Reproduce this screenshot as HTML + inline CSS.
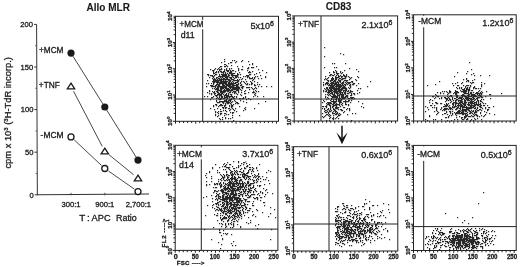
<!DOCTYPE html>
<html><head><meta charset="utf-8"><style>
html,body{margin:0;padding:0;background:#fff;}
body{width:520px;height:267px;overflow:hidden;}
svg{display:block;font-family:"Liberation Sans", sans-serif;filter:blur(0.3px);}
text{fill:#1a1a1a;stroke:#1a1a1a;stroke-width:0.3px;}
</style></head><body>
<svg width="520" height="267" viewBox="0 0 520 267">
<text x="86.60" y="11.20" font-size="10" text-anchor="start" font-weight="bold" style="stroke-width:0.1px">Allo MLR</text>
<text x="325.80" y="10.00" font-size="10" text-anchor="start" font-weight="bold" style="stroke-width:0.1px">CD83</text>
<line x1="36.60" y1="24.40" x2="37.35" y2="195.30" stroke="#333" stroke-width="1.0"/>
<line x1="34.75" y1="194.80" x2="37.35" y2="194.80" stroke="#333" stroke-width="1"/>
<text x="33.75" y="197.50" font-size="7.6" text-anchor="end" font-weight="normal" fill="#222">0</text>
<line x1="34.56" y1="152.20" x2="37.16" y2="152.20" stroke="#333" stroke-width="1"/>
<text x="33.56" y="154.90" font-size="7.6" text-anchor="end" font-weight="normal" fill="#222">50</text>
<line x1="34.38" y1="109.60" x2="36.98" y2="109.60" stroke="#333" stroke-width="1"/>
<text x="33.38" y="112.30" font-size="7.6" text-anchor="end" font-weight="normal" fill="#222">100</text>
<line x1="34.19" y1="67.00" x2="36.79" y2="67.00" stroke="#333" stroke-width="1"/>
<text x="33.19" y="69.70" font-size="7.6" text-anchor="end" font-weight="normal" fill="#222">150</text>
<line x1="34.00" y1="24.40" x2="36.60" y2="24.40" stroke="#333" stroke-width="1"/>
<text x="33.00" y="27.10" font-size="7.6" text-anchor="end" font-weight="normal" fill="#222">200</text>
<line x1="35.66" y1="173.50" x2="37.26" y2="173.50" stroke="#555" stroke-width="0.9"/>
<line x1="35.47" y1="130.90" x2="37.07" y2="130.90" stroke="#555" stroke-width="0.9"/>
<line x1="35.28" y1="88.30" x2="36.88" y2="88.30" stroke="#555" stroke-width="0.9"/>
<line x1="35.09" y1="45.70" x2="36.69" y2="45.70" stroke="#555" stroke-width="0.9"/>
<line x1="37.35" y1="194.80" x2="149.00" y2="194.00" stroke="#333" stroke-width="1.1"/>
<line x1="71.00" y1="192.80" x2="71.00" y2="195.30" stroke="#444" stroke-width="0.9"/>
<line x1="104.80" y1="192.80" x2="104.80" y2="195.30" stroke="#444" stroke-width="0.9"/>
<line x1="138.00" y1="192.80" x2="138.00" y2="195.30" stroke="#444" stroke-width="0.9"/>
<text x="71.00" y="207.20" font-size="7.6" text-anchor="middle" font-weight="normal" >300:1</text>
<text x="104.80" y="207.00" font-size="7.6" text-anchor="middle" font-weight="normal" >900:1</text>
<text x="138.40" y="207.00" font-size="7.6" text-anchor="middle" font-weight="normal" >2,700:1</text>
<text y="221.4" font-size="9.8"><tspan x="79.2">T</tspan><tspan x="87.0">:</tspan><tspan x="91.6" textLength="19" lengthAdjust="spacingAndGlyphs">APC</tspan><tspan x="116.0" textLength="20.8" lengthAdjust="spacingAndGlyphs">Ratio</tspan></text>
<text transform="translate(10.5,168.6) rotate(-90)" font-size="8.6" fill="#222" textLength="111.5" lengthAdjust="spacingAndGlyphs">cpm x 10<tspan dy="-3" font-size="5.5">3</tspan><tspan dy="3"> (</tspan><tspan dy="-3" font-size="5.5">3</tspan><tspan dy="3">H-TdR incorp.)</tspan></text>
<text x="39.00" y="52.80" font-size="8.8" text-anchor="start" font-weight="normal" textLength="24.4" lengthAdjust="spacingAndGlyphs">+MCM</text>
<text x="38.80" y="88.20" font-size="8.8" text-anchor="start" font-weight="normal" textLength="21" lengthAdjust="spacingAndGlyphs">+TNF</text>
<text x="40.60" y="137.80" font-size="8.8" text-anchor="start" font-weight="normal" textLength="23" lengthAdjust="spacingAndGlyphs">-MCM</text>
<line x1="72.91" y1="56.15" x2="102.89" y2="103.95" stroke="#333" stroke-width="0.9"/>
<line x1="106.71" y1="110.05" x2="136.09" y2="157.05" stroke="#333" stroke-width="0.9"/>
<line x1="73.58" y1="91.27" x2="102.22" y2="146.33" stroke="#333" stroke-width="0.9"/>
<line x1="109.14" y1="154.83" x2="133.66" y2="174.77" stroke="#333" stroke-width="0.9"/>
<line x1="74.21" y1="139.90" x2="101.59" y2="165.50" stroke="#333" stroke-width="0.9"/>
<line x1="108.41" y1="171.01" x2="134.39" y2="189.09" stroke="#333" stroke-width="0.9"/>
<circle cx="71.0" cy="53.1" r="3.6" fill="#1a1a1a"/>
<circle cx="104.8" cy="107.0" r="3.6" fill="#1a1a1a"/>
<circle cx="138.0" cy="160.1" r="3.6" fill="#1a1a1a"/>
<circle cx="71.0" cy="136.9" r="3.0" fill="#fff" stroke="#1a1a1a" stroke-width="1.3"/>
<circle cx="104.8" cy="168.5" r="3.0" fill="#fff" stroke="#1a1a1a" stroke-width="1.3"/>
<circle cx="138.0" cy="191.6" r="3.0" fill="#fff" stroke="#1a1a1a" stroke-width="1.3"/>
<path d="M71.0 83.1 L74.7 88.89999999999999 L67.3 88.89999999999999 Z" fill="#fff" stroke="#1a1a1a" stroke-width="1.3" stroke-linejoin="miter"/>
<path d="M104.8 148.10000000000002 L108.5 153.9 L101.1 153.9 Z" fill="#fff" stroke="#1a1a1a" stroke-width="1.3" stroke-linejoin="miter"/>
<path d="M138.0 175.10000000000002 L141.7 180.9 L134.3 180.9 Z" fill="#fff" stroke="#1a1a1a" stroke-width="1.3" stroke-linejoin="miter"/>
<path d="M224 59h1.2v1.2h-1.2zM232 60h1.2v1.2h-1.2zM234 60h1.2v1.2h-1.2zM242 60h1.2v1.2h-1.2zM224 61h1.2v1.2h-1.2zM236 61h1.2v1.2h-1.2zM241 61h1.2v1.2h-1.2zM248 61h1.2v1.2h-1.2zM221 62h1.2v1.2h-1.2zM230 62h2.2v1.2h-2.2zM235 62h1.2v1.2h-1.2zM228 63h1.2v1.2h-1.2zM252 63h1.2v1.2h-1.2zM224 64h2.2v1.2h-2.2zM249 64h1.2v1.2h-1.2zM252 64h1.2v1.2h-1.2zM226 65h1.2v1.2h-1.2zM231 65h1.2v1.2h-1.2zM220 66h2.2v1.2h-2.2zM224 66h2.2v1.2h-2.2zM227 66h1.2v1.2h-1.2zM237 66h1.2v1.2h-1.2zM242 66h1.2v1.2h-1.2zM256 66h1.2v1.2h-1.2zM219 67h1.2v1.2h-1.2zM248 67h1.2v1.2h-1.2zM251 67h3.2v1.2h-3.2zM215 68h1.2v1.2h-1.2zM218 68h1.2v1.2h-1.2zM221 68h1.2v1.2h-1.2zM226 68h1.2v1.2h-1.2zM229 68h1.2v1.2h-1.2zM231 68h1.2v1.2h-1.2zM238 68h1.2v1.2h-1.2zM247 68h2.2v1.2h-2.2zM210 69h1.2v1.2h-1.2zM214 69h1.2v1.2h-1.2zM217 69h1.2v1.2h-1.2zM219 69h3.2v1.2h-3.2zM224 69h1.2v1.2h-1.2zM226 69h1.2v1.2h-1.2zM229 69h1.2v1.2h-1.2zM238 69h1.2v1.2h-1.2zM241 69h2.2v1.2h-2.2zM258 69h1.2v1.2h-1.2zM212 70h2.2v1.2h-2.2zM219 70h1.2v1.2h-1.2zM224 70h1.2v1.2h-1.2zM226 70h3.2v1.2h-3.2zM230 70h1.2v1.2h-1.2zM232 70h2.2v1.2h-2.2zM238 70h1.2v1.2h-1.2zM247 70h1.2v1.2h-1.2zM262 70h1.2v1.2h-1.2zM213 71h1.2v1.2h-1.2zM216 71h1.2v1.2h-1.2zM218 71h1.2v1.2h-1.2zM220 71h2.2v1.2h-2.2zM223 71h2.2v1.2h-2.2zM227 71h2.2v1.2h-2.2zM230 71h2.2v1.2h-2.2zM235 71h1.2v1.2h-1.2zM249 71h1.2v1.2h-1.2zM252 71h1.2v1.2h-1.2zM213 72h1.2v1.2h-1.2zM215 72h2.2v1.2h-2.2zM218 72h1.2v1.2h-1.2zM221 72h3.2v1.2h-3.2zM225 72h1.2v1.2h-1.2zM229 72h3.2v1.2h-3.2zM239 72h1.2v1.2h-1.2zM248 72h3.2v1.2h-3.2zM259 72h1.2v1.2h-1.2zM266 72h1.2v1.2h-1.2zM213 73h2.2v1.2h-2.2zM223 73h1.2v1.2h-1.2zM225 73h1.2v1.2h-1.2zM227 73h1.2v1.2h-1.2zM229 73h6.2v1.2h-6.2zM237 73h1.2v1.2h-1.2zM256 73h1.2v1.2h-1.2zM207 74h2.2v1.2h-2.2zM215 74h2.2v1.2h-2.2zM219 74h1.2v1.2h-1.2zM221 74h6.2v1.2h-6.2zM228 74h1.2v1.2h-1.2zM231 74h2.2v1.2h-2.2zM237 74h2.2v1.2h-2.2zM240 74h1.2v1.2h-1.2zM249 74h2.2v1.2h-2.2zM254 74h1.2v1.2h-1.2zM208 75h1.2v1.2h-1.2zM210 75h3.2v1.2h-3.2zM214 75h1.2v1.2h-1.2zM219 75h1.2v1.2h-1.2zM222 75h5.2v1.2h-5.2zM228 75h2.2v1.2h-2.2zM231 75h7.2v1.2h-7.2zM246 75h3.2v1.2h-3.2zM260 75h1.2v1.2h-1.2zM212 76h2.2v1.2h-2.2zM218 76h11.2v1.2h-11.2zM232 76h1.2v1.2h-1.2zM235 76h3.2v1.2h-3.2zM243 76h1.2v1.2h-1.2zM245 76h1.2v1.2h-1.2zM247 76h2.2v1.2h-2.2zM255 76h1.2v1.2h-1.2zM257 76h1.2v1.2h-1.2zM265 76h1.2v1.2h-1.2zM209 77h1.2v1.2h-1.2zM213 77h1.2v1.2h-1.2zM216 77h2.2v1.2h-2.2zM220 77h1.2v1.2h-1.2zM222 77h1.2v1.2h-1.2zM225 77h3.2v1.2h-3.2zM229 77h3.2v1.2h-3.2zM233 77h1.2v1.2h-1.2zM235 77h2.2v1.2h-2.2zM238 77h1.2v1.2h-1.2zM240 77h1.2v1.2h-1.2zM247 77h1.2v1.2h-1.2zM249 77h1.2v1.2h-1.2zM252 77h1.2v1.2h-1.2zM254 77h1.2v1.2h-1.2zM265 77h1.2v1.2h-1.2zM212 78h1.2v1.2h-1.2zM214 78h1.2v1.2h-1.2zM216 78h1.2v1.2h-1.2zM218 78h2.2v1.2h-2.2zM221 78h1.2v1.2h-1.2zM223 78h2.2v1.2h-2.2zM226 78h2.2v1.2h-2.2zM230 78h2.2v1.2h-2.2zM234 78h1.2v1.2h-1.2zM242 78h1.2v1.2h-1.2zM249 78h4.2v1.2h-4.2zM254 78h1.2v1.2h-1.2zM258 78h1.2v1.2h-1.2zM261 78h1.2v1.2h-1.2zM213 79h3.2v1.2h-3.2zM217 79h1.2v1.2h-1.2zM219 79h11.2v1.2h-11.2zM231 79h3.2v1.2h-3.2zM237 79h1.2v1.2h-1.2zM239 79h1.2v1.2h-1.2zM241 79h1.2v1.2h-1.2zM245 79h1.2v1.2h-1.2zM253 79h1.2v1.2h-1.2zM207 80h1.2v1.2h-1.2zM213 80h9.2v1.2h-9.2zM223 80h1.2v1.2h-1.2zM225 80h1.2v1.2h-1.2zM228 80h3.2v1.2h-3.2zM233 80h6.2v1.2h-6.2zM252 80h1.2v1.2h-1.2zM212 81h7.2v1.2h-7.2zM220 81h8.2v1.2h-8.2zM229 81h2.2v1.2h-2.2zM232 81h1.2v1.2h-1.2zM237 81h2.2v1.2h-2.2zM241 81h1.2v1.2h-1.2zM243 81h1.2v1.2h-1.2zM246 81h1.2v1.2h-1.2zM250 81h1.2v1.2h-1.2zM254 81h1.2v1.2h-1.2zM213 82h2.2v1.2h-2.2zM216 82h11.2v1.2h-11.2zM228 82h2.2v1.2h-2.2zM231 82h1.2v1.2h-1.2zM233 82h1.2v1.2h-1.2zM235 82h3.2v1.2h-3.2zM240 82h1.2v1.2h-1.2zM244 82h1.2v1.2h-1.2zM251 82h1.2v1.2h-1.2zM257 82h1.2v1.2h-1.2zM206 83h1.2v1.2h-1.2zM208 83h1.2v1.2h-1.2zM211 83h1.2v1.2h-1.2zM213 83h1.2v1.2h-1.2zM217 83h1.2v1.2h-1.2zM219 83h8.2v1.2h-8.2zM228 83h8.2v1.2h-8.2zM238 83h1.2v1.2h-1.2zM240 83h1.2v1.2h-1.2zM245 83h1.2v1.2h-1.2zM247 83h1.2v1.2h-1.2zM251 83h2.2v1.2h-2.2zM213 84h1.2v1.2h-1.2zM216 84h4.2v1.2h-4.2zM222 84h2.2v1.2h-2.2zM225 84h9.2v1.2h-9.2zM236 84h3.2v1.2h-3.2zM241 84h1.2v1.2h-1.2zM246 84h2.2v1.2h-2.2zM249 84h1.2v1.2h-1.2zM251 84h1.2v1.2h-1.2zM254 84h1.2v1.2h-1.2zM257 84h1.2v1.2h-1.2zM259 84h1.2v1.2h-1.2zM210 85h3.2v1.2h-3.2zM215 85h2.2v1.2h-2.2zM218 85h2.2v1.2h-2.2zM222 85h3.2v1.2h-3.2zM226 85h5.2v1.2h-5.2zM232 85h6.2v1.2h-6.2zM240 85h2.2v1.2h-2.2zM254 85h2.2v1.2h-2.2zM206 86h1.2v1.2h-1.2zM211 86h5.2v1.2h-5.2zM217 86h10.2v1.2h-10.2zM228 86h6.2v1.2h-6.2zM236 86h3.2v1.2h-3.2zM242 86h2.2v1.2h-2.2zM258 86h1.2v1.2h-1.2zM261 86h1.2v1.2h-1.2zM266 86h1.2v1.2h-1.2zM271 86h1.2v1.2h-1.2zM215 87h1.2v1.2h-1.2zM217 87h2.2v1.2h-2.2zM220 87h7.2v1.2h-7.2zM229 87h11.2v1.2h-11.2zM241 87h2.2v1.2h-2.2zM246 87h4.2v1.2h-4.2zM251 87h1.2v1.2h-1.2zM255 87h1.2v1.2h-1.2zM212 88h1.2v1.2h-1.2zM214 88h1.2v1.2h-1.2zM216 88h3.2v1.2h-3.2zM220 88h4.2v1.2h-4.2zM225 88h4.2v1.2h-4.2zM230 88h1.2v1.2h-1.2zM232 88h8.2v1.2h-8.2zM242 88h1.2v1.2h-1.2zM252 88h1.2v1.2h-1.2zM254 88h1.2v1.2h-1.2zM256 88h1.2v1.2h-1.2zM215 89h4.2v1.2h-4.2zM220 89h2.2v1.2h-2.2zM224 89h1.2v1.2h-1.2zM226 89h4.2v1.2h-4.2zM231 89h8.2v1.2h-8.2zM240 89h1.2v1.2h-1.2zM249 89h1.2v1.2h-1.2zM253 89h1.2v1.2h-1.2zM209 90h1.2v1.2h-1.2zM217 90h5.2v1.2h-5.2zM223 90h10.2v1.2h-10.2zM236 90h3.2v1.2h-3.2zM241 90h1.2v1.2h-1.2zM245 90h1.2v1.2h-1.2zM255 90h1.2v1.2h-1.2zM209 91h1.2v1.2h-1.2zM212 91h1.2v1.2h-1.2zM214 91h1.2v1.2h-1.2zM216 91h2.2v1.2h-2.2zM220 91h6.2v1.2h-6.2zM227 91h2.2v1.2h-2.2zM230 91h1.2v1.2h-1.2zM233 91h3.2v1.2h-3.2zM238 91h1.2v1.2h-1.2zM244 91h1.2v1.2h-1.2zM253 91h1.2v1.2h-1.2zM256 91h1.2v1.2h-1.2zM258 91h1.2v1.2h-1.2zM207 92h1.2v1.2h-1.2zM213 92h2.2v1.2h-2.2zM217 92h2.2v1.2h-2.2zM220 92h5.2v1.2h-5.2zM229 92h2.2v1.2h-2.2zM232 92h1.2v1.2h-1.2zM234 92h2.2v1.2h-2.2zM238 92h1.2v1.2h-1.2zM241 92h1.2v1.2h-1.2zM248 92h1.2v1.2h-1.2zM252 92h3.2v1.2h-3.2zM209 93h1.2v1.2h-1.2zM211 93h1.2v1.2h-1.2zM214 93h2.2v1.2h-2.2zM218 93h2.2v1.2h-2.2zM221 93h2.2v1.2h-2.2zM226 93h1.2v1.2h-1.2zM228 93h1.2v1.2h-1.2zM234 93h1.2v1.2h-1.2zM236 93h1.2v1.2h-1.2zM244 93h2.2v1.2h-2.2zM255 93h1.2v1.2h-1.2zM211 94h1.2v1.2h-1.2zM214 94h1.2v1.2h-1.2zM217 94h5.2v1.2h-5.2zM223 94h1.2v1.2h-1.2zM225 94h2.2v1.2h-2.2zM228 94h1.2v1.2h-1.2zM230 94h2.2v1.2h-2.2zM237 94h1.2v1.2h-1.2zM240 94h1.2v1.2h-1.2zM254 94h1.2v1.2h-1.2zM215 95h3.2v1.2h-3.2zM219 95h3.2v1.2h-3.2zM224 95h5.2v1.2h-5.2zM231 95h1.2v1.2h-1.2zM241 95h1.2v1.2h-1.2zM255 95h1.2v1.2h-1.2zM204 96h1.2v1.2h-1.2zM207 96h1.2v1.2h-1.2zM213 96h1.2v1.2h-1.2zM216 96h1.2v1.2h-1.2zM219 96h1.2v1.2h-1.2zM221 96h2.2v1.2h-2.2zM224 96h1.2v1.2h-1.2zM226 96h7.2v1.2h-7.2zM234 96h1.2v1.2h-1.2zM236 96h1.2v1.2h-1.2zM245 96h1.2v1.2h-1.2zM253 96h1.2v1.2h-1.2zM257 96h1.2v1.2h-1.2zM263 96h1.2v1.2h-1.2zM211 97h2.2v1.2h-2.2zM217 97h1.2v1.2h-1.2zM219 97h1.2v1.2h-1.2zM221 97h2.2v1.2h-2.2zM224 97h4.2v1.2h-4.2zM229 97h1.2v1.2h-1.2zM232 97h2.2v1.2h-2.2zM236 97h1.2v1.2h-1.2zM243 97h1.2v1.2h-1.2zM245 97h1.2v1.2h-1.2zM216 98h1.2v1.2h-1.2zM218 98h1.2v1.2h-1.2zM220 98h2.2v1.2h-2.2zM223 98h2.2v1.2h-2.2zM227 98h1.2v1.2h-1.2zM231 98h1.2v1.2h-1.2zM233 98h2.2v1.2h-2.2zM239 98h2.2v1.2h-2.2zM242 98h2.2v1.2h-2.2zM248 98h1.2v1.2h-1.2zM210 99h1.2v1.2h-1.2zM219 99h2.2v1.2h-2.2zM226 99h1.2v1.2h-1.2zM229 99h3.2v1.2h-3.2zM246 99h1.2v1.2h-1.2zM250 99h1.2v1.2h-1.2zM216 100h1.2v1.2h-1.2zM224 100h3.2v1.2h-3.2zM228 100h3.2v1.2h-3.2zM234 100h1.2v1.2h-1.2zM240 100h1.2v1.2h-1.2zM216 101h1.2v1.2h-1.2zM219 101h10.2v1.2h-10.2zM230 101h1.2v1.2h-1.2zM232 101h1.2v1.2h-1.2zM235 101h1.2v1.2h-1.2zM243 101h1.2v1.2h-1.2zM265 101h1.2v1.2h-1.2zM217 102h3.2v1.2h-3.2zM222 102h2.2v1.2h-2.2zM226 102h4.2v1.2h-4.2zM231 102h1.2v1.2h-1.2zM236 102h2.2v1.2h-2.2zM246 102h1.2v1.2h-1.2zM223 103h1.2v1.2h-1.2zM225 103h1.2v1.2h-1.2zM227 103h2.2v1.2h-2.2zM230 103h1.2v1.2h-1.2zM235 103h1.2v1.2h-1.2zM237 103h2.2v1.2h-2.2zM258 103h1.2v1.2h-1.2zM215 104h2.2v1.2h-2.2zM220 104h2.2v1.2h-2.2zM225 104h1.2v1.2h-1.2zM231 104h1.2v1.2h-1.2zM233 104h1.2v1.2h-1.2zM213 105h1.2v1.2h-1.2zM216 105h1.2v1.2h-1.2zM219 105h4.2v1.2h-4.2zM224 105h2.2v1.2h-2.2zM229 105h1.2v1.2h-1.2zM231 105h2.2v1.2h-2.2zM213 106h1.2v1.2h-1.2zM218 106h1.2v1.2h-1.2zM224 106h1.2v1.2h-1.2zM229 106h1.2v1.2h-1.2zM231 106h2.2v1.2h-2.2zM239 106h1.2v1.2h-1.2zM222 107h2.2v1.2h-2.2zM225 107h2.2v1.2h-2.2zM231 107h1.2v1.2h-1.2zM245 107h1.2v1.2h-1.2zM210 108h1.2v1.2h-1.2zM217 108h1.2v1.2h-1.2zM223 108h1.2v1.2h-1.2zM225 108h1.2v1.2h-1.2zM228 108h2.2v1.2h-2.2zM232 108h1.2v1.2h-1.2zM235 108h1.2v1.2h-1.2zM244 108h1.2v1.2h-1.2zM254 108h1.2v1.2h-1.2zM214 109h1.2v1.2h-1.2zM220 109h1.2v1.2h-1.2zM230 109h1.2v1.2h-1.2zM233 109h1.2v1.2h-1.2zM245 109h1.2v1.2h-1.2zM223 110h1.2v1.2h-1.2zM225 110h1.2v1.2h-1.2zM229 110h1.2v1.2h-1.2zM234 110h1.2v1.2h-1.2zM243 110h1.2v1.2h-1.2zM215 111h1.2v1.2h-1.2zM218 111h1.2v1.2h-1.2zM220 111h2.2v1.2h-2.2zM226 111h1.2v1.2h-1.2zM236 111h1.2v1.2h-1.2zM215 112h1.2v1.2h-1.2zM217 112h1.2v1.2h-1.2zM230 112h1.2v1.2h-1.2zM232 112h2.2v1.2h-2.2zM218 113h1.2v1.2h-1.2zM220 113h2.2v1.2h-2.2zM224 113h2.2v1.2h-2.2zM232 113h1.2v1.2h-1.2zM215 114h1.2v1.2h-1.2zM220 114h1.2v1.2h-1.2zM226 114h1.2v1.2h-1.2zM228 114h1.2v1.2h-1.2zM215 115h1.2v1.2h-1.2zM218 115h1.2v1.2h-1.2zM224 115h1.2v1.2h-1.2zM232 115h1.2v1.2h-1.2zM239 115h1.2v1.2h-1.2zM217 116h1.2v1.2h-1.2zM222 117h1.2v1.2h-1.2zM225 117h1.2v1.2h-1.2zM232 117h1.2v1.2h-1.2zM219 118h1.2v1.2h-1.2zM225 118h1.2v1.2h-1.2zM228 118h1.2v1.2h-1.2zM230 118h1.2v1.2h-1.2zM220 119h1.2v1.2h-1.2zM222 119h1.2v1.2h-1.2zM233 120h1.2v1.2h-1.2z" fill="#111" fill-opacity="0.9"/>
<line x1="175.50" y1="99.00" x2="278.50" y2="99.00" stroke="#222" stroke-width="1.0"/>
<line x1="202.70" y1="16.30" x2="202.70" y2="121.30" stroke="#222" stroke-width="1.0"/>
<rect x="175.5" y="16.3" width="103.0" height="105.0" fill="none" stroke="#222" stroke-width="1.0"/>
<rect x="179.1" y="19.8" width="25.0" height="9.5" fill="#fff"/>
<text x="179.60" y="27.20" font-size="8.8" text-anchor="start" font-weight="normal" textLength="24.0" lengthAdjust="spacingAndGlyphs">+MCM</text>
<text x="180.70" y="38.40" font-size="8.8" text-anchor="start" font-weight="normal" >d11</text>
<rect x="243.0" y="18.3" width="31" height="14.9" fill="#fff"/>
<text x="274.0" y="28.7" font-size="9" text-anchor="end">5x10<tspan dy="-2.9" font-size="7">6</tspan></text>
<line x1="172.90" y1="121.30" x2="175.50" y2="121.30" stroke="#222" stroke-width="1.0"/>
<line x1="173.70" y1="113.40" x2="175.50" y2="113.40" stroke="#222" stroke-width="1.0"/>
<line x1="173.70" y1="108.78" x2="175.50" y2="108.78" stroke="#222" stroke-width="1.0"/>
<line x1="173.70" y1="105.50" x2="175.50" y2="105.50" stroke="#222" stroke-width="1.0"/>
<line x1="173.70" y1="102.95" x2="175.50" y2="102.95" stroke="#222" stroke-width="1.0"/>
<line x1="173.70" y1="100.87" x2="175.50" y2="100.87" stroke="#222" stroke-width="1.0"/>
<line x1="173.70" y1="99.12" x2="175.50" y2="99.12" stroke="#222" stroke-width="1.0"/>
<line x1="173.70" y1="97.59" x2="175.50" y2="97.59" stroke="#222" stroke-width="1.0"/>
<line x1="173.70" y1="96.25" x2="175.50" y2="96.25" stroke="#222" stroke-width="1.0"/>
<line x1="172.90" y1="95.05" x2="175.50" y2="95.05" stroke="#222" stroke-width="1.0"/>
<line x1="173.70" y1="87.15" x2="175.50" y2="87.15" stroke="#222" stroke-width="1.0"/>
<line x1="173.70" y1="82.53" x2="175.50" y2="82.53" stroke="#222" stroke-width="1.0"/>
<line x1="173.70" y1="79.25" x2="175.50" y2="79.25" stroke="#222" stroke-width="1.0"/>
<line x1="173.70" y1="76.70" x2="175.50" y2="76.70" stroke="#222" stroke-width="1.0"/>
<line x1="173.70" y1="74.62" x2="175.50" y2="74.62" stroke="#222" stroke-width="1.0"/>
<line x1="173.70" y1="72.87" x2="175.50" y2="72.87" stroke="#222" stroke-width="1.0"/>
<line x1="173.70" y1="71.34" x2="175.50" y2="71.34" stroke="#222" stroke-width="1.0"/>
<line x1="173.70" y1="70.00" x2="175.50" y2="70.00" stroke="#222" stroke-width="1.0"/>
<line x1="172.90" y1="68.80" x2="175.50" y2="68.80" stroke="#222" stroke-width="1.0"/>
<line x1="173.70" y1="60.90" x2="175.50" y2="60.90" stroke="#222" stroke-width="1.0"/>
<line x1="173.70" y1="56.28" x2="175.50" y2="56.28" stroke="#222" stroke-width="1.0"/>
<line x1="173.70" y1="53.00" x2="175.50" y2="53.00" stroke="#222" stroke-width="1.0"/>
<line x1="173.70" y1="50.45" x2="175.50" y2="50.45" stroke="#222" stroke-width="1.0"/>
<line x1="173.70" y1="48.37" x2="175.50" y2="48.37" stroke="#222" stroke-width="1.0"/>
<line x1="173.70" y1="46.62" x2="175.50" y2="46.62" stroke="#222" stroke-width="1.0"/>
<line x1="173.70" y1="45.09" x2="175.50" y2="45.09" stroke="#222" stroke-width="1.0"/>
<line x1="173.70" y1="43.75" x2="175.50" y2="43.75" stroke="#222" stroke-width="1.0"/>
<line x1="172.90" y1="42.55" x2="175.50" y2="42.55" stroke="#222" stroke-width="1.0"/>
<line x1="173.70" y1="34.65" x2="175.50" y2="34.65" stroke="#222" stroke-width="1.0"/>
<line x1="173.70" y1="30.03" x2="175.50" y2="30.03" stroke="#222" stroke-width="1.0"/>
<line x1="173.70" y1="26.75" x2="175.50" y2="26.75" stroke="#222" stroke-width="1.0"/>
<line x1="173.70" y1="24.20" x2="175.50" y2="24.20" stroke="#222" stroke-width="1.0"/>
<line x1="173.70" y1="22.12" x2="175.50" y2="22.12" stroke="#222" stroke-width="1.0"/>
<line x1="173.70" y1="20.37" x2="175.50" y2="20.37" stroke="#222" stroke-width="1.0"/>
<line x1="173.70" y1="18.84" x2="175.50" y2="18.84" stroke="#222" stroke-width="1.0"/>
<line x1="173.70" y1="17.50" x2="175.50" y2="17.50" stroke="#222" stroke-width="1.0"/>
<line x1="173.30" y1="16.30" x2="175.50" y2="16.30" stroke="#333" stroke-width="0.8"/>
<text transform="translate(171.8,125.89999999999999) rotate(-90)" font-size="6.1" font-weight="bold" fill="#222">10<tspan dy="-2.2" font-size="4.4">0</tspan></text>
<text transform="translate(171.8,99.64999999999999) rotate(-90)" font-size="6.1" font-weight="bold" fill="#222">10<tspan dy="-2.2" font-size="4.4">1</tspan></text>
<text transform="translate(171.8,73.39999999999999) rotate(-90)" font-size="6.1" font-weight="bold" fill="#222">10<tspan dy="-2.2" font-size="4.4">2</tspan></text>
<text transform="translate(171.8,47.15) rotate(-90)" font-size="6.1" font-weight="bold" fill="#222">10<tspan dy="-2.2" font-size="4.4">3</tspan></text>
<text transform="translate(171.8,20.9) rotate(-90)" font-size="6.1" font-weight="bold" fill="#222">10<tspan dy="-2.2" font-size="4.4">4</tspan></text>
<line x1="175.50" y1="121.30" x2="175.50" y2="123.70" stroke="#222" stroke-width="1.0"/>
<line x1="179.54" y1="121.30" x2="179.54" y2="123.10" stroke="#222" stroke-width="1.0"/>
<line x1="183.58" y1="121.30" x2="183.58" y2="123.10" stroke="#222" stroke-width="1.0"/>
<line x1="187.62" y1="121.30" x2="187.62" y2="123.10" stroke="#222" stroke-width="1.0"/>
<line x1="191.66" y1="121.30" x2="191.66" y2="123.10" stroke="#222" stroke-width="1.0"/>
<line x1="195.70" y1="121.30" x2="195.70" y2="123.70" stroke="#222" stroke-width="1.0"/>
<line x1="199.74" y1="121.30" x2="199.74" y2="123.10" stroke="#222" stroke-width="1.0"/>
<line x1="203.77" y1="121.30" x2="203.77" y2="123.10" stroke="#222" stroke-width="1.0"/>
<line x1="207.81" y1="121.30" x2="207.81" y2="123.10" stroke="#222" stroke-width="1.0"/>
<line x1="211.85" y1="121.30" x2="211.85" y2="123.10" stroke="#222" stroke-width="1.0"/>
<line x1="215.89" y1="121.30" x2="215.89" y2="123.70" stroke="#222" stroke-width="1.0"/>
<line x1="219.93" y1="121.30" x2="219.93" y2="123.10" stroke="#222" stroke-width="1.0"/>
<line x1="223.97" y1="121.30" x2="223.97" y2="123.10" stroke="#222" stroke-width="1.0"/>
<line x1="228.01" y1="121.30" x2="228.01" y2="123.10" stroke="#222" stroke-width="1.0"/>
<line x1="232.05" y1="121.30" x2="232.05" y2="123.10" stroke="#222" stroke-width="1.0"/>
<line x1="236.09" y1="121.30" x2="236.09" y2="123.70" stroke="#222" stroke-width="1.0"/>
<line x1="240.13" y1="121.30" x2="240.13" y2="123.10" stroke="#222" stroke-width="1.0"/>
<line x1="244.17" y1="121.30" x2="244.17" y2="123.10" stroke="#222" stroke-width="1.0"/>
<line x1="248.21" y1="121.30" x2="248.21" y2="123.10" stroke="#222" stroke-width="1.0"/>
<line x1="252.25" y1="121.30" x2="252.25" y2="123.10" stroke="#222" stroke-width="1.0"/>
<line x1="256.28" y1="121.30" x2="256.28" y2="123.70" stroke="#222" stroke-width="1.0"/>
<line x1="260.32" y1="121.30" x2="260.32" y2="123.10" stroke="#222" stroke-width="1.0"/>
<line x1="264.36" y1="121.30" x2="264.36" y2="123.10" stroke="#222" stroke-width="1.0"/>
<line x1="268.40" y1="121.30" x2="268.40" y2="123.10" stroke="#222" stroke-width="1.0"/>
<line x1="272.44" y1="121.30" x2="272.44" y2="123.10" stroke="#222" stroke-width="1.0"/>
<line x1="276.48" y1="121.30" x2="276.48" y2="123.70" stroke="#222" stroke-width="1.0"/>
<path d="M324 47h1.2v1.2h-1.2zM340 53h1.2v1.2h-1.2zM343 54h1.2v1.2h-1.2zM324 56h1.2v1.2h-1.2zM332 63h1.2v1.2h-1.2zM334 63h1.2v1.2h-1.2zM345 63h1.2v1.2h-1.2zM324 67h1.2v1.2h-1.2zM334 67h1.2v1.2h-1.2zM336 67h1.2v1.2h-1.2zM349 68h1.2v1.2h-1.2zM356 69h1.2v1.2h-1.2zM335 70h1.2v1.2h-1.2zM344 70h1.2v1.2h-1.2zM333 71h1.2v1.2h-1.2zM336 71h1.2v1.2h-1.2zM340 71h1.2v1.2h-1.2zM358 71h1.2v1.2h-1.2zM329 72h1.2v1.2h-1.2zM333 72h2.2v1.2h-2.2zM336 72h1.2v1.2h-1.2zM340 72h1.2v1.2h-1.2zM342 72h1.2v1.2h-1.2zM336 73h3.2v1.2h-3.2zM341 73h1.2v1.2h-1.2zM330 74h2.2v1.2h-2.2zM334 74h1.2v1.2h-1.2zM337 74h1.2v1.2h-1.2zM343 74h1.2v1.2h-1.2zM346 74h1.2v1.2h-1.2zM329 75h2.2v1.2h-2.2zM332 75h2.2v1.2h-2.2zM336 75h1.2v1.2h-1.2zM338 75h1.2v1.2h-1.2zM340 75h1.2v1.2h-1.2zM343 75h2.2v1.2h-2.2zM346 75h1.2v1.2h-1.2zM325 76h1.2v1.2h-1.2zM335 76h1.2v1.2h-1.2zM338 76h2.2v1.2h-2.2zM341 76h2.2v1.2h-2.2zM344 76h3.2v1.2h-3.2zM348 76h1.2v1.2h-1.2zM357 76h1.2v1.2h-1.2zM328 77h1.2v1.2h-1.2zM332 77h1.2v1.2h-1.2zM335 77h4.2v1.2h-4.2zM341 77h1.2v1.2h-1.2zM345 77h1.2v1.2h-1.2zM349 77h1.2v1.2h-1.2zM351 77h1.2v1.2h-1.2zM358 77h1.2v1.2h-1.2zM325 78h1.2v1.2h-1.2zM327 78h1.2v1.2h-1.2zM331 78h3.2v1.2h-3.2zM335 78h2.2v1.2h-2.2zM339 78h2.2v1.2h-2.2zM342 78h4.2v1.2h-4.2zM350 78h1.2v1.2h-1.2zM324 79h1.2v1.2h-1.2zM326 79h1.2v1.2h-1.2zM331 79h3.2v1.2h-3.2zM335 79h2.2v1.2h-2.2zM338 79h1.2v1.2h-1.2zM341 79h2.2v1.2h-2.2zM349 79h1.2v1.2h-1.2zM355 79h1.2v1.2h-1.2zM327 80h2.2v1.2h-2.2zM330 80h3.2v1.2h-3.2zM334 80h2.2v1.2h-2.2zM338 80h3.2v1.2h-3.2zM344 80h4.2v1.2h-4.2zM356 80h1.2v1.2h-1.2zM328 81h1.2v1.2h-1.2zM330 81h1.2v1.2h-1.2zM333 81h3.2v1.2h-3.2zM337 81h1.2v1.2h-1.2zM339 81h2.2v1.2h-2.2zM343 81h1.2v1.2h-1.2zM346 81h1.2v1.2h-1.2zM351 81h2.2v1.2h-2.2zM370 81h1.2v1.2h-1.2zM323 82h1.2v1.2h-1.2zM326 82h2.2v1.2h-2.2zM331 82h3.2v1.2h-3.2zM335 82h4.2v1.2h-4.2zM340 82h1.2v1.2h-1.2zM342 82h2.2v1.2h-2.2zM345 82h1.2v1.2h-1.2zM347 82h4.2v1.2h-4.2zM352 82h1.2v1.2h-1.2zM325 83h4.2v1.2h-4.2zM330 83h7.2v1.2h-7.2zM338 83h1.2v1.2h-1.2zM341 83h3.2v1.2h-3.2zM346 83h1.2v1.2h-1.2zM348 83h2.2v1.2h-2.2zM353 83h2.2v1.2h-2.2zM358 83h1.2v1.2h-1.2zM323 84h1.2v1.2h-1.2zM325 84h1.2v1.2h-1.2zM327 84h1.2v1.2h-1.2zM329 84h1.2v1.2h-1.2zM331 84h2.2v1.2h-2.2zM334 84h7.2v1.2h-7.2zM342 84h1.2v1.2h-1.2zM344 84h2.2v1.2h-2.2zM347 84h1.2v1.2h-1.2zM350 84h1.2v1.2h-1.2zM352 84h2.2v1.2h-2.2zM323 85h1.2v1.2h-1.2zM328 85h7.2v1.2h-7.2zM336 85h8.2v1.2h-8.2zM345 85h1.2v1.2h-1.2zM349 85h2.2v1.2h-2.2zM356 85h1.2v1.2h-1.2zM330 86h4.2v1.2h-4.2zM335 86h7.2v1.2h-7.2zM343 86h2.2v1.2h-2.2zM350 86h1.2v1.2h-1.2zM367 86h1.2v1.2h-1.2zM326 87h2.2v1.2h-2.2zM329 87h6.2v1.2h-6.2zM336 87h1.2v1.2h-1.2zM338 87h3.2v1.2h-3.2zM342 87h4.2v1.2h-4.2zM348 87h1.2v1.2h-1.2zM350 87h1.2v1.2h-1.2zM324 88h1.2v1.2h-1.2zM326 88h2.2v1.2h-2.2zM329 88h11.2v1.2h-11.2zM341 88h6.2v1.2h-6.2zM349 88h1.2v1.2h-1.2zM358 88h1.2v1.2h-1.2zM360 88h1.2v1.2h-1.2zM325 89h1.2v1.2h-1.2zM327 89h2.2v1.2h-2.2zM330 89h2.2v1.2h-2.2zM333 89h10.2v1.2h-10.2zM345 89h2.2v1.2h-2.2zM323 90h1.2v1.2h-1.2zM326 90h1.2v1.2h-1.2zM328 90h5.2v1.2h-5.2zM334 90h3.2v1.2h-3.2zM338 90h4.2v1.2h-4.2zM343 90h4.2v1.2h-4.2zM348 90h1.2v1.2h-1.2zM350 90h1.2v1.2h-1.2zM357 90h1.2v1.2h-1.2zM323 91h1.2v1.2h-1.2zM325 91h2.2v1.2h-2.2zM328 91h4.2v1.2h-4.2zM333 91h8.2v1.2h-8.2zM343 91h1.2v1.2h-1.2zM345 91h1.2v1.2h-1.2zM347 91h2.2v1.2h-2.2zM350 91h3.2v1.2h-3.2zM327 92h3.2v1.2h-3.2zM331 92h2.2v1.2h-2.2zM334 92h4.2v1.2h-4.2zM339 92h4.2v1.2h-4.2zM344 92h2.2v1.2h-2.2zM349 92h2.2v1.2h-2.2zM359 92h1.2v1.2h-1.2zM328 93h1.2v1.2h-1.2zM330 93h3.2v1.2h-3.2zM334 93h1.2v1.2h-1.2zM336 93h3.2v1.2h-3.2zM340 93h1.2v1.2h-1.2zM342 93h1.2v1.2h-1.2zM344 93h2.2v1.2h-2.2zM347 93h2.2v1.2h-2.2zM351 93h1.2v1.2h-1.2zM353 93h2.2v1.2h-2.2zM357 93h1.2v1.2h-1.2zM325 94h1.2v1.2h-1.2zM327 94h1.2v1.2h-1.2zM329 94h1.2v1.2h-1.2zM332 94h3.2v1.2h-3.2zM337 94h1.2v1.2h-1.2zM339 94h5.2v1.2h-5.2zM345 94h1.2v1.2h-1.2zM351 94h1.2v1.2h-1.2zM354 94h1.2v1.2h-1.2zM328 95h1.2v1.2h-1.2zM330 95h1.2v1.2h-1.2zM333 95h3.2v1.2h-3.2zM337 95h3.2v1.2h-3.2zM341 95h3.2v1.2h-3.2zM346 95h2.2v1.2h-2.2zM350 95h2.2v1.2h-2.2zM325 96h1.2v1.2h-1.2zM331 96h7.2v1.2h-7.2zM339 96h1.2v1.2h-1.2zM341 96h3.2v1.2h-3.2zM345 96h3.2v1.2h-3.2zM325 97h1.2v1.2h-1.2zM327 97h1.2v1.2h-1.2zM332 97h6.2v1.2h-6.2zM339 97h1.2v1.2h-1.2zM341 97h5.2v1.2h-5.2zM347 97h1.2v1.2h-1.2zM350 97h4.2v1.2h-4.2zM328 98h1.2v1.2h-1.2zM331 98h1.2v1.2h-1.2zM336 98h1.2v1.2h-1.2zM338 98h3.2v1.2h-3.2zM342 98h3.2v1.2h-3.2zM348 98h2.2v1.2h-2.2zM351 98h2.2v1.2h-2.2zM354 98h1.2v1.2h-1.2zM326 99h1.2v1.2h-1.2zM331 99h1.2v1.2h-1.2zM333 99h1.2v1.2h-1.2zM335 99h2.2v1.2h-2.2zM338 99h2.2v1.2h-2.2zM341 99h1.2v1.2h-1.2zM323 100h1.2v1.2h-1.2zM330 100h1.2v1.2h-1.2zM333 100h1.2v1.2h-1.2zM336 100h1.2v1.2h-1.2zM338 100h4.2v1.2h-4.2zM345 100h1.2v1.2h-1.2zM348 100h2.2v1.2h-2.2zM351 100h1.2v1.2h-1.2zM324 101h1.2v1.2h-1.2zM331 101h6.2v1.2h-6.2zM338 101h3.2v1.2h-3.2zM343 101h6.2v1.2h-6.2zM358 101h1.2v1.2h-1.2zM322 102h1.2v1.2h-1.2zM327 102h4.2v1.2h-4.2zM333 102h3.2v1.2h-3.2zM339 102h3.2v1.2h-3.2zM345 102h1.2v1.2h-1.2zM350 102h1.2v1.2h-1.2zM326 103h1.2v1.2h-1.2zM328 103h4.2v1.2h-4.2zM333 103h2.2v1.2h-2.2zM336 103h1.2v1.2h-1.2zM339 103h1.2v1.2h-1.2zM342 103h1.2v1.2h-1.2zM345 103h1.2v1.2h-1.2zM362 103h1.2v1.2h-1.2zM327 104h3.2v1.2h-3.2zM332 104h2.2v1.2h-2.2zM335 104h5.2v1.2h-5.2zM341 104h1.2v1.2h-1.2zM345 104h2.2v1.2h-2.2zM348 104h1.2v1.2h-1.2zM326 105h1.2v1.2h-1.2zM329 105h2.2v1.2h-2.2zM333 105h4.2v1.2h-4.2zM339 105h1.2v1.2h-1.2zM342 105h1.2v1.2h-1.2zM348 105h1.2v1.2h-1.2zM322 106h2.2v1.2h-2.2zM325 106h2.2v1.2h-2.2zM330 106h1.2v1.2h-1.2zM332 106h2.2v1.2h-2.2zM336 106h1.2v1.2h-1.2zM340 106h1.2v1.2h-1.2zM361 106h1.2v1.2h-1.2zM326 107h1.2v1.2h-1.2zM330 107h1.2v1.2h-1.2zM332 107h1.2v1.2h-1.2zM335 107h4.2v1.2h-4.2zM343 107h2.2v1.2h-2.2zM363 107h1.2v1.2h-1.2zM322 108h1.2v1.2h-1.2zM324 108h1.2v1.2h-1.2zM328 108h1.2v1.2h-1.2zM330 108h1.2v1.2h-1.2zM333 108h1.2v1.2h-1.2zM335 108h3.2v1.2h-3.2zM347 108h1.2v1.2h-1.2zM349 108h1.2v1.2h-1.2zM324 109h1.2v1.2h-1.2zM327 109h2.2v1.2h-2.2zM330 109h1.2v1.2h-1.2zM333 109h2.2v1.2h-2.2zM338 109h1.2v1.2h-1.2zM340 109h2.2v1.2h-2.2zM346 109h1.2v1.2h-1.2zM349 109h1.2v1.2h-1.2zM325 110h2.2v1.2h-2.2zM329 110h1.2v1.2h-1.2zM331 110h1.2v1.2h-1.2zM334 110h2.2v1.2h-2.2zM341 110h2.2v1.2h-2.2zM349 110h1.2v1.2h-1.2zM324 111h1.2v1.2h-1.2zM327 111h1.2v1.2h-1.2zM329 111h2.2v1.2h-2.2zM333 111h1.2v1.2h-1.2zM335 111h2.2v1.2h-2.2zM344 111h1.2v1.2h-1.2zM325 112h2.2v1.2h-2.2zM328 112h1.2v1.2h-1.2zM332 112h1.2v1.2h-1.2zM335 112h1.2v1.2h-1.2zM337 112h1.2v1.2h-1.2zM343 112h1.2v1.2h-1.2zM322 113h1.2v1.2h-1.2zM328 113h1.2v1.2h-1.2zM332 113h3.2v1.2h-3.2zM336 113h2.2v1.2h-2.2zM339 113h1.2v1.2h-1.2zM352 113h1.2v1.2h-1.2zM355 113h1.2v1.2h-1.2zM326 114h2.2v1.2h-2.2zM329 114h1.2v1.2h-1.2zM335 114h2.2v1.2h-2.2zM338 114h1.2v1.2h-1.2zM340 114h1.2v1.2h-1.2zM347 114h1.2v1.2h-1.2zM325 115h1.2v1.2h-1.2zM328 115h1.2v1.2h-1.2zM330 115h1.2v1.2h-1.2zM333 115h1.2v1.2h-1.2zM338 115h2.2v1.2h-2.2zM322 116h1.2v1.2h-1.2zM324 116h1.2v1.2h-1.2zM329 116h1.2v1.2h-1.2zM337 116h1.2v1.2h-1.2zM323 117h1.2v1.2h-1.2zM330 117h1.2v1.2h-1.2zM333 117h1.2v1.2h-1.2zM336 117h1.2v1.2h-1.2zM329 118h1.2v1.2h-1.2zM332 118h2.2v1.2h-2.2zM335 118h1.2v1.2h-1.2zM338 118h1.2v1.2h-1.2zM333 119h1.2v1.2h-1.2zM326 120h1.2v1.2h-1.2zM329 120h1.2v1.2h-1.2zM351 120h1.2v1.2h-1.2z" fill="#111" fill-opacity="0.9"/>
<line x1="294.20" y1="99.00" x2="397.60" y2="99.00" stroke="#222" stroke-width="1.0"/>
<line x1="321.00" y1="15.90" x2="321.00" y2="121.00" stroke="#222" stroke-width="1.0"/>
<rect x="294.2" y="15.9" width="103.40000000000003" height="105.1" fill="none" stroke="#222" stroke-width="1.0"/>
<rect x="297.5" y="19.9" width="22.0" height="8" fill="#fff"/>
<text x="298.00" y="26.50" font-size="8.8" text-anchor="start" font-weight="normal" textLength="21.0" lengthAdjust="spacingAndGlyphs">+TNF</text>
<rect x="361.40000000000003" y="17.9" width="31" height="14.1" fill="#fff"/>
<text x="392.4" y="27.5" font-size="9" text-anchor="end">2.1x10<tspan dy="-2.9" font-size="7">6</tspan></text>
<line x1="291.60" y1="121.00" x2="294.20" y2="121.00" stroke="#222" stroke-width="1.0"/>
<line x1="292.40" y1="113.09" x2="294.20" y2="113.09" stroke="#222" stroke-width="1.0"/>
<line x1="292.40" y1="108.46" x2="294.20" y2="108.46" stroke="#222" stroke-width="1.0"/>
<line x1="292.40" y1="105.18" x2="294.20" y2="105.18" stroke="#222" stroke-width="1.0"/>
<line x1="292.40" y1="102.63" x2="294.20" y2="102.63" stroke="#222" stroke-width="1.0"/>
<line x1="292.40" y1="100.55" x2="294.20" y2="100.55" stroke="#222" stroke-width="1.0"/>
<line x1="292.40" y1="98.80" x2="294.20" y2="98.80" stroke="#222" stroke-width="1.0"/>
<line x1="292.40" y1="97.27" x2="294.20" y2="97.27" stroke="#222" stroke-width="1.0"/>
<line x1="292.40" y1="95.93" x2="294.20" y2="95.93" stroke="#222" stroke-width="1.0"/>
<line x1="291.60" y1="94.72" x2="294.20" y2="94.72" stroke="#222" stroke-width="1.0"/>
<line x1="292.40" y1="86.82" x2="294.20" y2="86.82" stroke="#222" stroke-width="1.0"/>
<line x1="292.40" y1="82.19" x2="294.20" y2="82.19" stroke="#222" stroke-width="1.0"/>
<line x1="292.40" y1="78.91" x2="294.20" y2="78.91" stroke="#222" stroke-width="1.0"/>
<line x1="292.40" y1="76.36" x2="294.20" y2="76.36" stroke="#222" stroke-width="1.0"/>
<line x1="292.40" y1="74.28" x2="294.20" y2="74.28" stroke="#222" stroke-width="1.0"/>
<line x1="292.40" y1="72.52" x2="294.20" y2="72.52" stroke="#222" stroke-width="1.0"/>
<line x1="292.40" y1="71.00" x2="294.20" y2="71.00" stroke="#222" stroke-width="1.0"/>
<line x1="292.40" y1="69.65" x2="294.20" y2="69.65" stroke="#222" stroke-width="1.0"/>
<line x1="291.60" y1="68.45" x2="294.20" y2="68.45" stroke="#222" stroke-width="1.0"/>
<line x1="292.40" y1="60.54" x2="294.20" y2="60.54" stroke="#222" stroke-width="1.0"/>
<line x1="292.40" y1="55.91" x2="294.20" y2="55.91" stroke="#222" stroke-width="1.0"/>
<line x1="292.40" y1="52.63" x2="294.20" y2="52.63" stroke="#222" stroke-width="1.0"/>
<line x1="292.40" y1="50.08" x2="294.20" y2="50.08" stroke="#222" stroke-width="1.0"/>
<line x1="292.40" y1="48.00" x2="294.20" y2="48.00" stroke="#222" stroke-width="1.0"/>
<line x1="292.40" y1="46.25" x2="294.20" y2="46.25" stroke="#222" stroke-width="1.0"/>
<line x1="292.40" y1="44.72" x2="294.20" y2="44.72" stroke="#222" stroke-width="1.0"/>
<line x1="292.40" y1="43.38" x2="294.20" y2="43.38" stroke="#222" stroke-width="1.0"/>
<line x1="291.60" y1="42.18" x2="294.20" y2="42.18" stroke="#222" stroke-width="1.0"/>
<line x1="292.40" y1="34.27" x2="294.20" y2="34.27" stroke="#222" stroke-width="1.0"/>
<line x1="292.40" y1="29.64" x2="294.20" y2="29.64" stroke="#222" stroke-width="1.0"/>
<line x1="292.40" y1="26.36" x2="294.20" y2="26.36" stroke="#222" stroke-width="1.0"/>
<line x1="292.40" y1="23.81" x2="294.20" y2="23.81" stroke="#222" stroke-width="1.0"/>
<line x1="292.40" y1="21.73" x2="294.20" y2="21.73" stroke="#222" stroke-width="1.0"/>
<line x1="292.40" y1="19.97" x2="294.20" y2="19.97" stroke="#222" stroke-width="1.0"/>
<line x1="292.40" y1="18.45" x2="294.20" y2="18.45" stroke="#222" stroke-width="1.0"/>
<line x1="292.40" y1="17.10" x2="294.20" y2="17.10" stroke="#222" stroke-width="1.0"/>
<line x1="292.00" y1="15.90" x2="294.20" y2="15.90" stroke="#333" stroke-width="0.8"/>
<text transform="translate(290.5,125.6) rotate(-90)" font-size="6.1" font-weight="bold" fill="#222">10<tspan dy="-2.2" font-size="4.4">0</tspan></text>
<text transform="translate(290.5,99.32499999999999) rotate(-90)" font-size="6.1" font-weight="bold" fill="#222">10<tspan dy="-2.2" font-size="4.4">1</tspan></text>
<text transform="translate(290.5,73.05) rotate(-90)" font-size="6.1" font-weight="bold" fill="#222">10<tspan dy="-2.2" font-size="4.4">2</tspan></text>
<text transform="translate(290.5,46.77500000000001) rotate(-90)" font-size="6.1" font-weight="bold" fill="#222">10<tspan dy="-2.2" font-size="4.4">3</tspan></text>
<text transform="translate(290.5,20.500000000000007) rotate(-90)" font-size="6.1" font-weight="bold" fill="#222">10<tspan dy="-2.2" font-size="4.4">4</tspan></text>
<line x1="294.20" y1="121.00" x2="294.20" y2="123.40" stroke="#222" stroke-width="1.0"/>
<line x1="298.25" y1="121.00" x2="298.25" y2="122.80" stroke="#222" stroke-width="1.0"/>
<line x1="302.31" y1="121.00" x2="302.31" y2="122.80" stroke="#222" stroke-width="1.0"/>
<line x1="306.36" y1="121.00" x2="306.36" y2="122.80" stroke="#222" stroke-width="1.0"/>
<line x1="310.42" y1="121.00" x2="310.42" y2="122.80" stroke="#222" stroke-width="1.0"/>
<line x1="314.47" y1="121.00" x2="314.47" y2="123.40" stroke="#222" stroke-width="1.0"/>
<line x1="318.53" y1="121.00" x2="318.53" y2="122.80" stroke="#222" stroke-width="1.0"/>
<line x1="322.58" y1="121.00" x2="322.58" y2="122.80" stroke="#222" stroke-width="1.0"/>
<line x1="326.64" y1="121.00" x2="326.64" y2="122.80" stroke="#222" stroke-width="1.0"/>
<line x1="330.69" y1="121.00" x2="330.69" y2="122.80" stroke="#222" stroke-width="1.0"/>
<line x1="334.75" y1="121.00" x2="334.75" y2="123.40" stroke="#222" stroke-width="1.0"/>
<line x1="338.80" y1="121.00" x2="338.80" y2="122.80" stroke="#222" stroke-width="1.0"/>
<line x1="342.86" y1="121.00" x2="342.86" y2="122.80" stroke="#222" stroke-width="1.0"/>
<line x1="346.91" y1="121.00" x2="346.91" y2="122.80" stroke="#222" stroke-width="1.0"/>
<line x1="350.97" y1="121.00" x2="350.97" y2="122.80" stroke="#222" stroke-width="1.0"/>
<line x1="355.02" y1="121.00" x2="355.02" y2="123.40" stroke="#222" stroke-width="1.0"/>
<line x1="359.08" y1="121.00" x2="359.08" y2="122.80" stroke="#222" stroke-width="1.0"/>
<line x1="363.13" y1="121.00" x2="363.13" y2="122.80" stroke="#222" stroke-width="1.0"/>
<line x1="367.19" y1="121.00" x2="367.19" y2="122.80" stroke="#222" stroke-width="1.0"/>
<line x1="371.24" y1="121.00" x2="371.24" y2="122.80" stroke="#222" stroke-width="1.0"/>
<line x1="375.30" y1="121.00" x2="375.30" y2="123.40" stroke="#222" stroke-width="1.0"/>
<line x1="379.35" y1="121.00" x2="379.35" y2="122.80" stroke="#222" stroke-width="1.0"/>
<line x1="383.41" y1="121.00" x2="383.41" y2="122.80" stroke="#222" stroke-width="1.0"/>
<line x1="387.46" y1="121.00" x2="387.46" y2="122.80" stroke="#222" stroke-width="1.0"/>
<line x1="391.52" y1="121.00" x2="391.52" y2="122.80" stroke="#222" stroke-width="1.0"/>
<line x1="395.57" y1="121.00" x2="395.57" y2="123.40" stroke="#222" stroke-width="1.0"/>
<path d="M469 62h1.2v1.2h-1.2zM471 69h1.2v1.2h-1.2zM467 71h1.2v1.2h-1.2zM457 72h1.2v1.2h-1.2zM466 73h1.2v1.2h-1.2zM473 73h1.2v1.2h-1.2zM471 74h1.2v1.2h-1.2zM474 75h1.2v1.2h-1.2zM480 75h1.2v1.2h-1.2zM489 75h1.2v1.2h-1.2zM454 76h1.2v1.2h-1.2zM466 78h1.2v1.2h-1.2zM463 79h1.2v1.2h-1.2zM466 79h1.2v1.2h-1.2zM474 79h1.2v1.2h-1.2zM467 80h2.2v1.2h-2.2zM472 80h1.2v1.2h-1.2zM439 81h1.2v1.2h-1.2zM466 81h1.2v1.2h-1.2zM468 81h1.2v1.2h-1.2zM457 82h1.2v1.2h-1.2zM462 82h1.2v1.2h-1.2zM470 82h1.2v1.2h-1.2zM472 82h2.2v1.2h-2.2zM481 82h1.2v1.2h-1.2zM452 83h1.2v1.2h-1.2zM455 83h1.2v1.2h-1.2zM461 83h1.2v1.2h-1.2zM471 83h1.2v1.2h-1.2zM484 83h1.2v1.2h-1.2zM435 84h1.2v1.2h-1.2zM481 84h1.2v1.2h-1.2zM427 85h1.2v1.2h-1.2zM453 85h1.2v1.2h-1.2zM457 85h2.2v1.2h-2.2zM463 85h1.2v1.2h-1.2zM466 85h3.2v1.2h-3.2zM470 85h1.2v1.2h-1.2zM481 85h1.2v1.2h-1.2zM465 86h1.2v1.2h-1.2zM470 86h1.2v1.2h-1.2zM474 86h1.2v1.2h-1.2zM481 86h1.2v1.2h-1.2zM456 87h1.2v1.2h-1.2zM459 87h1.2v1.2h-1.2zM461 87h1.2v1.2h-1.2zM465 87h1.2v1.2h-1.2zM467 87h1.2v1.2h-1.2zM469 87h1.2v1.2h-1.2zM473 87h2.2v1.2h-2.2zM457 88h1.2v1.2h-1.2zM459 88h1.2v1.2h-1.2zM461 88h1.2v1.2h-1.2zM464 88h1.2v1.2h-1.2zM466 88h2.2v1.2h-2.2zM469 88h1.2v1.2h-1.2zM473 88h1.2v1.2h-1.2zM475 88h2.2v1.2h-2.2zM478 88h1.2v1.2h-1.2zM480 88h1.2v1.2h-1.2zM462 89h3.2v1.2h-3.2zM466 89h4.2v1.2h-4.2zM449 90h1.2v1.2h-1.2zM455 90h1.2v1.2h-1.2zM460 90h1.2v1.2h-1.2zM463 90h4.2v1.2h-4.2zM468 90h2.2v1.2h-2.2zM471 90h2.2v1.2h-2.2zM479 90h1.2v1.2h-1.2zM442 91h1.2v1.2h-1.2zM444 91h1.2v1.2h-1.2zM446 91h1.2v1.2h-1.2zM449 91h2.2v1.2h-2.2zM455 91h3.2v1.2h-3.2zM461 91h6.2v1.2h-6.2zM468 91h1.2v1.2h-1.2zM478 91h1.2v1.2h-1.2zM481 91h1.2v1.2h-1.2zM486 91h1.2v1.2h-1.2zM437 92h1.2v1.2h-1.2zM440 92h1.2v1.2h-1.2zM447 92h1.2v1.2h-1.2zM449 92h2.2v1.2h-2.2zM454 92h5.2v1.2h-5.2zM463 92h3.2v1.2h-3.2zM468 92h1.2v1.2h-1.2zM470 92h2.2v1.2h-2.2zM473 92h1.2v1.2h-1.2zM476 92h2.2v1.2h-2.2zM480 92h1.2v1.2h-1.2zM482 92h1.2v1.2h-1.2zM440 93h1.2v1.2h-1.2zM443 93h1.2v1.2h-1.2zM448 93h1.2v1.2h-1.2zM453 93h1.2v1.2h-1.2zM455 93h2.2v1.2h-2.2zM464 93h5.2v1.2h-5.2zM470 93h2.2v1.2h-2.2zM475 93h7.2v1.2h-7.2zM501 93h1.2v1.2h-1.2zM435 94h1.2v1.2h-1.2zM447 94h1.2v1.2h-1.2zM455 94h2.2v1.2h-2.2zM462 94h2.2v1.2h-2.2zM468 94h2.2v1.2h-2.2zM471 94h4.2v1.2h-4.2zM477 94h1.2v1.2h-1.2zM479 94h1.2v1.2h-1.2zM481 94h1.2v1.2h-1.2zM489 94h2.2v1.2h-2.2zM436 95h1.2v1.2h-1.2zM450 95h2.2v1.2h-2.2zM456 95h2.2v1.2h-2.2zM461 95h4.2v1.2h-4.2zM467 95h2.2v1.2h-2.2zM471 95h5.2v1.2h-5.2zM478 95h3.2v1.2h-3.2zM432 96h2.2v1.2h-2.2zM437 96h2.2v1.2h-2.2zM447 96h1.2v1.2h-1.2zM449 96h1.2v1.2h-1.2zM451 96h1.2v1.2h-1.2zM456 96h2.2v1.2h-2.2zM462 96h1.2v1.2h-1.2zM464 96h3.2v1.2h-3.2zM468 96h4.2v1.2h-4.2zM473 96h4.2v1.2h-4.2zM480 96h2.2v1.2h-2.2zM485 96h1.2v1.2h-1.2zM435 97h1.2v1.2h-1.2zM441 97h1.2v1.2h-1.2zM444 97h2.2v1.2h-2.2zM448 97h1.2v1.2h-1.2zM452 97h1.2v1.2h-1.2zM456 97h2.2v1.2h-2.2zM459 97h4.2v1.2h-4.2zM465 97h4.2v1.2h-4.2zM472 97h2.2v1.2h-2.2zM477 97h3.2v1.2h-3.2zM481 97h2.2v1.2h-2.2zM434 98h1.2v1.2h-1.2zM439 98h1.2v1.2h-1.2zM441 98h1.2v1.2h-1.2zM445 98h3.2v1.2h-3.2zM449 98h1.2v1.2h-1.2zM452 98h1.2v1.2h-1.2zM454 98h2.2v1.2h-2.2zM458 98h4.2v1.2h-4.2zM463 98h1.2v1.2h-1.2zM465 98h7.2v1.2h-7.2zM473 98h2.2v1.2h-2.2zM476 98h2.2v1.2h-2.2zM490 98h1.2v1.2h-1.2zM430 99h1.2v1.2h-1.2zM446 99h2.2v1.2h-2.2zM449 99h2.2v1.2h-2.2zM452 99h1.2v1.2h-1.2zM456 99h2.2v1.2h-2.2zM461 99h2.2v1.2h-2.2zM464 99h1.2v1.2h-1.2zM466 99h3.2v1.2h-3.2zM470 99h4.2v1.2h-4.2zM475 99h1.2v1.2h-1.2zM477 99h1.2v1.2h-1.2zM481 99h1.2v1.2h-1.2zM483 99h1.2v1.2h-1.2zM429 100h1.2v1.2h-1.2zM432 100h1.2v1.2h-1.2zM446 100h1.2v1.2h-1.2zM448 100h1.2v1.2h-1.2zM450 100h1.2v1.2h-1.2zM453 100h1.2v1.2h-1.2zM455 100h2.2v1.2h-2.2zM458 100h4.2v1.2h-4.2zM464 100h2.2v1.2h-2.2zM467 100h3.2v1.2h-3.2zM471 100h1.2v1.2h-1.2zM474 100h1.2v1.2h-1.2zM477 100h2.2v1.2h-2.2zM480 100h1.2v1.2h-1.2zM445 101h1.2v1.2h-1.2zM451 101h1.2v1.2h-1.2zM455 101h1.2v1.2h-1.2zM458 101h1.2v1.2h-1.2zM460 101h3.2v1.2h-3.2zM464 101h2.2v1.2h-2.2zM470 101h4.2v1.2h-4.2zM476 101h1.2v1.2h-1.2zM478 101h1.2v1.2h-1.2zM480 101h2.2v1.2h-2.2zM429 102h1.2v1.2h-1.2zM435 102h2.2v1.2h-2.2zM450 102h1.2v1.2h-1.2zM453 102h4.2v1.2h-4.2zM459 102h4.2v1.2h-4.2zM464 102h3.2v1.2h-3.2zM468 102h5.2v1.2h-5.2zM474 102h3.2v1.2h-3.2zM478 102h1.2v1.2h-1.2zM482 102h1.2v1.2h-1.2zM432 103h1.2v1.2h-1.2zM436 103h2.2v1.2h-2.2zM440 103h2.2v1.2h-2.2zM446 103h1.2v1.2h-1.2zM448 103h1.2v1.2h-1.2zM452 103h2.2v1.2h-2.2zM455 103h6.2v1.2h-6.2zM462 103h4.2v1.2h-4.2zM468 103h1.2v1.2h-1.2zM470 103h5.2v1.2h-5.2zM476 103h1.2v1.2h-1.2zM478 103h1.2v1.2h-1.2zM480 103h1.2v1.2h-1.2zM483 103h1.2v1.2h-1.2zM485 103h1.2v1.2h-1.2zM444 104h1.2v1.2h-1.2zM446 104h2.2v1.2h-2.2zM452 104h2.2v1.2h-2.2zM455 104h1.2v1.2h-1.2zM458 104h1.2v1.2h-1.2zM460 104h2.2v1.2h-2.2zM463 104h3.2v1.2h-3.2zM467 104h3.2v1.2h-3.2zM471 104h1.2v1.2h-1.2zM474 104h7.2v1.2h-7.2zM430 105h2.2v1.2h-2.2zM434 105h1.2v1.2h-1.2zM445 105h3.2v1.2h-3.2zM449 105h1.2v1.2h-1.2zM453 105h1.2v1.2h-1.2zM455 105h1.2v1.2h-1.2zM457 105h6.2v1.2h-6.2zM464 105h2.2v1.2h-2.2zM468 105h8.2v1.2h-8.2zM477 105h2.2v1.2h-2.2zM480 105h2.2v1.2h-2.2zM483 105h2.2v1.2h-2.2zM487 105h1.2v1.2h-1.2zM425 106h1.2v1.2h-1.2zM443 106h4.2v1.2h-4.2zM448 106h1.2v1.2h-1.2zM452 106h1.2v1.2h-1.2zM454 106h3.2v1.2h-3.2zM458 106h1.2v1.2h-1.2zM460 106h5.2v1.2h-5.2zM466 106h1.2v1.2h-1.2zM470 106h2.2v1.2h-2.2zM473 106h2.2v1.2h-2.2zM479 106h2.2v1.2h-2.2zM493 106h1.2v1.2h-1.2zM427 107h1.2v1.2h-1.2zM432 107h1.2v1.2h-1.2zM434 107h1.2v1.2h-1.2zM436 107h1.2v1.2h-1.2zM441 107h1.2v1.2h-1.2zM449 107h2.2v1.2h-2.2zM452 107h3.2v1.2h-3.2zM457 107h2.2v1.2h-2.2zM460 107h1.2v1.2h-1.2zM462 107h12.2v1.2h-12.2zM475 107h1.2v1.2h-1.2zM477 107h1.2v1.2h-1.2zM480 107h2.2v1.2h-2.2zM485 107h1.2v1.2h-1.2zM488 107h2.2v1.2h-2.2zM436 108h1.2v1.2h-1.2zM441 108h1.2v1.2h-1.2zM444 108h4.2v1.2h-4.2zM449 108h3.2v1.2h-3.2zM456 108h2.2v1.2h-2.2zM459 108h2.2v1.2h-2.2zM462 108h1.2v1.2h-1.2zM466 108h6.2v1.2h-6.2zM474 108h2.2v1.2h-2.2zM477 108h1.2v1.2h-1.2zM482 108h1.2v1.2h-1.2zM485 108h1.2v1.2h-1.2zM428 109h1.2v1.2h-1.2zM436 109h1.2v1.2h-1.2zM440 109h1.2v1.2h-1.2zM443 109h4.2v1.2h-4.2zM448 109h1.2v1.2h-1.2zM450 109h1.2v1.2h-1.2zM452 109h1.2v1.2h-1.2zM455 109h2.2v1.2h-2.2zM460 109h1.2v1.2h-1.2zM462 109h7.2v1.2h-7.2zM476 109h1.2v1.2h-1.2zM479 109h2.2v1.2h-2.2zM487 109h2.2v1.2h-2.2zM436 110h1.2v1.2h-1.2zM442 110h1.2v1.2h-1.2zM444 110h1.2v1.2h-1.2zM458 110h2.2v1.2h-2.2zM461 110h6.2v1.2h-6.2zM468 110h2.2v1.2h-2.2zM471 110h1.2v1.2h-1.2zM473 110h1.2v1.2h-1.2zM475 110h1.2v1.2h-1.2zM477 110h2.2v1.2h-2.2zM481 110h1.2v1.2h-1.2zM487 110h1.2v1.2h-1.2zM425 111h1.2v1.2h-1.2zM434 111h1.2v1.2h-1.2zM437 111h1.2v1.2h-1.2zM446 111h1.2v1.2h-1.2zM449 111h2.2v1.2h-2.2zM452 111h1.2v1.2h-1.2zM457 111h4.2v1.2h-4.2zM462 111h2.2v1.2h-2.2zM465 111h2.2v1.2h-2.2zM469 111h2.2v1.2h-2.2zM472 111h2.2v1.2h-2.2zM475 111h2.2v1.2h-2.2zM484 111h1.2v1.2h-1.2zM438 112h1.2v1.2h-1.2zM446 112h1.2v1.2h-1.2zM450 112h1.2v1.2h-1.2zM454 112h1.2v1.2h-1.2zM456 112h4.2v1.2h-4.2zM461 112h3.2v1.2h-3.2zM467 112h1.2v1.2h-1.2zM470 112h2.2v1.2h-2.2zM474 112h3.2v1.2h-3.2zM480 112h1.2v1.2h-1.2zM486 112h1.2v1.2h-1.2zM437 113h1.2v1.2h-1.2zM444 113h2.2v1.2h-2.2zM450 113h1.2v1.2h-1.2zM452 113h1.2v1.2h-1.2zM455 113h12.2v1.2h-12.2zM469 113h2.2v1.2h-2.2zM472 113h1.2v1.2h-1.2zM474 113h1.2v1.2h-1.2zM480 113h1.2v1.2h-1.2zM489 113h1.2v1.2h-1.2zM436 114h1.2v1.2h-1.2zM442 114h1.2v1.2h-1.2zM447 114h1.2v1.2h-1.2zM452 114h1.2v1.2h-1.2zM455 114h1.2v1.2h-1.2zM462 114h2.2v1.2h-2.2zM465 114h1.2v1.2h-1.2zM467 114h1.2v1.2h-1.2zM473 114h1.2v1.2h-1.2zM475 114h2.2v1.2h-2.2zM485 114h1.2v1.2h-1.2zM494 114h1.2v1.2h-1.2zM429 115h1.2v1.2h-1.2zM449 115h1.2v1.2h-1.2zM451 115h1.2v1.2h-1.2zM456 115h1.2v1.2h-1.2zM465 115h3.2v1.2h-3.2zM471 115h1.2v1.2h-1.2zM474 115h1.2v1.2h-1.2zM476 115h2.2v1.2h-2.2zM481 115h1.2v1.2h-1.2zM484 115h1.2v1.2h-1.2zM429 116h1.2v1.2h-1.2zM448 116h1.2v1.2h-1.2zM459 116h1.2v1.2h-1.2zM464 116h3.2v1.2h-3.2zM468 116h3.2v1.2h-3.2zM472 116h2.2v1.2h-2.2zM477 116h1.2v1.2h-1.2zM479 116h1.2v1.2h-1.2zM483 116h1.2v1.2h-1.2zM445 117h2.2v1.2h-2.2zM448 117h1.2v1.2h-1.2zM456 117h1.2v1.2h-1.2zM461 117h2.2v1.2h-2.2zM464 117h2.2v1.2h-2.2zM461 118h1.2v1.2h-1.2zM464 118h1.2v1.2h-1.2zM467 118h1.2v1.2h-1.2zM474 118h1.2v1.2h-1.2zM477 118h1.2v1.2h-1.2zM425 119h1.2v1.2h-1.2zM433 119h1.2v1.2h-1.2zM435 119h1.2v1.2h-1.2zM441 119h1.2v1.2h-1.2zM454 119h1.2v1.2h-1.2zM457 119h1.2v1.2h-1.2zM462 119h2.2v1.2h-2.2zM466 119h2.2v1.2h-2.2zM471 119h1.2v1.2h-1.2zM475 119h1.2v1.2h-1.2zM481 119h1.2v1.2h-1.2zM427 120h1.2v1.2h-1.2zM447 120h1.2v1.2h-1.2zM451 120h1.2v1.2h-1.2zM470 120h1.2v1.2h-1.2zM473 120h1.2v1.2h-1.2z" fill="#111" fill-opacity="0.9"/>
<line x1="413.60" y1="96.00" x2="516.20" y2="96.00" stroke="#222" stroke-width="1.0"/>
<line x1="423.70" y1="14.80" x2="423.70" y2="121.00" stroke="#222" stroke-width="1.0"/>
<rect x="413.6" y="14.8" width="102.60000000000002" height="106.2" fill="none" stroke="#222" stroke-width="1.0"/>
<rect x="417.70000000000005" y="15.8" width="24.0" height="11.5" fill="#fff"/>
<text x="418.20" y="24.40" font-size="8.8" text-anchor="start" font-weight="normal" textLength="23.0" lengthAdjust="spacingAndGlyphs">-MCM</text>
<rect x="482.30000000000007" y="16.8" width="31" height="13.4" fill="#fff"/>
<text x="513.3" y="25.7" font-size="9" text-anchor="end">1.2x10<tspan dy="-2.9" font-size="7">6</tspan></text>
<line x1="411.00" y1="121.00" x2="413.60" y2="121.00" stroke="#222" stroke-width="1.0"/>
<line x1="411.80" y1="113.01" x2="413.60" y2="113.01" stroke="#222" stroke-width="1.0"/>
<line x1="411.80" y1="108.33" x2="413.60" y2="108.33" stroke="#222" stroke-width="1.0"/>
<line x1="411.80" y1="105.02" x2="413.60" y2="105.02" stroke="#222" stroke-width="1.0"/>
<line x1="411.80" y1="102.44" x2="413.60" y2="102.44" stroke="#222" stroke-width="1.0"/>
<line x1="411.80" y1="100.34" x2="413.60" y2="100.34" stroke="#222" stroke-width="1.0"/>
<line x1="411.80" y1="98.56" x2="413.60" y2="98.56" stroke="#222" stroke-width="1.0"/>
<line x1="411.80" y1="97.02" x2="413.60" y2="97.02" stroke="#222" stroke-width="1.0"/>
<line x1="411.80" y1="95.66" x2="413.60" y2="95.66" stroke="#222" stroke-width="1.0"/>
<line x1="411.00" y1="94.45" x2="413.60" y2="94.45" stroke="#222" stroke-width="1.0"/>
<line x1="411.80" y1="86.46" x2="413.60" y2="86.46" stroke="#222" stroke-width="1.0"/>
<line x1="411.80" y1="81.78" x2="413.60" y2="81.78" stroke="#222" stroke-width="1.0"/>
<line x1="411.80" y1="78.47" x2="413.60" y2="78.47" stroke="#222" stroke-width="1.0"/>
<line x1="411.80" y1="75.89" x2="413.60" y2="75.89" stroke="#222" stroke-width="1.0"/>
<line x1="411.80" y1="73.79" x2="413.60" y2="73.79" stroke="#222" stroke-width="1.0"/>
<line x1="411.80" y1="72.01" x2="413.60" y2="72.01" stroke="#222" stroke-width="1.0"/>
<line x1="411.80" y1="70.47" x2="413.60" y2="70.47" stroke="#222" stroke-width="1.0"/>
<line x1="411.80" y1="69.11" x2="413.60" y2="69.11" stroke="#222" stroke-width="1.0"/>
<line x1="411.00" y1="67.90" x2="413.60" y2="67.90" stroke="#222" stroke-width="1.0"/>
<line x1="411.80" y1="59.91" x2="413.60" y2="59.91" stroke="#222" stroke-width="1.0"/>
<line x1="411.80" y1="55.23" x2="413.60" y2="55.23" stroke="#222" stroke-width="1.0"/>
<line x1="411.80" y1="51.92" x2="413.60" y2="51.92" stroke="#222" stroke-width="1.0"/>
<line x1="411.80" y1="49.34" x2="413.60" y2="49.34" stroke="#222" stroke-width="1.0"/>
<line x1="411.80" y1="47.24" x2="413.60" y2="47.24" stroke="#222" stroke-width="1.0"/>
<line x1="411.80" y1="45.46" x2="413.60" y2="45.46" stroke="#222" stroke-width="1.0"/>
<line x1="411.80" y1="43.92" x2="413.60" y2="43.92" stroke="#222" stroke-width="1.0"/>
<line x1="411.80" y1="42.56" x2="413.60" y2="42.56" stroke="#222" stroke-width="1.0"/>
<line x1="411.00" y1="41.35" x2="413.60" y2="41.35" stroke="#222" stroke-width="1.0"/>
<line x1="411.80" y1="33.36" x2="413.60" y2="33.36" stroke="#222" stroke-width="1.0"/>
<line x1="411.80" y1="28.68" x2="413.60" y2="28.68" stroke="#222" stroke-width="1.0"/>
<line x1="411.80" y1="25.37" x2="413.60" y2="25.37" stroke="#222" stroke-width="1.0"/>
<line x1="411.80" y1="22.79" x2="413.60" y2="22.79" stroke="#222" stroke-width="1.0"/>
<line x1="411.80" y1="20.69" x2="413.60" y2="20.69" stroke="#222" stroke-width="1.0"/>
<line x1="411.80" y1="18.91" x2="413.60" y2="18.91" stroke="#222" stroke-width="1.0"/>
<line x1="411.80" y1="17.37" x2="413.60" y2="17.37" stroke="#222" stroke-width="1.0"/>
<line x1="411.80" y1="16.01" x2="413.60" y2="16.01" stroke="#222" stroke-width="1.0"/>
<line x1="411.40" y1="14.80" x2="413.60" y2="14.80" stroke="#333" stroke-width="0.8"/>
<text transform="translate(409.90000000000003,125.6) rotate(-90)" font-size="6.1" font-weight="bold" fill="#222">10<tspan dy="-2.2" font-size="4.4">0</tspan></text>
<text transform="translate(409.90000000000003,99.05) rotate(-90)" font-size="6.1" font-weight="bold" fill="#222">10<tspan dy="-2.2" font-size="4.4">1</tspan></text>
<text transform="translate(409.90000000000003,72.5) rotate(-90)" font-size="6.1" font-weight="bold" fill="#222">10<tspan dy="-2.2" font-size="4.4">2</tspan></text>
<text transform="translate(409.90000000000003,45.949999999999996) rotate(-90)" font-size="6.1" font-weight="bold" fill="#222">10<tspan dy="-2.2" font-size="4.4">3</tspan></text>
<text transform="translate(409.90000000000003,19.4) rotate(-90)" font-size="6.1" font-weight="bold" fill="#222">10<tspan dy="-2.2" font-size="4.4">4</tspan></text>
<line x1="413.60" y1="121.00" x2="413.60" y2="123.40" stroke="#222" stroke-width="1.0"/>
<line x1="417.62" y1="121.00" x2="417.62" y2="122.80" stroke="#222" stroke-width="1.0"/>
<line x1="421.65" y1="121.00" x2="421.65" y2="122.80" stroke="#222" stroke-width="1.0"/>
<line x1="425.67" y1="121.00" x2="425.67" y2="122.80" stroke="#222" stroke-width="1.0"/>
<line x1="429.69" y1="121.00" x2="429.69" y2="122.80" stroke="#222" stroke-width="1.0"/>
<line x1="433.72" y1="121.00" x2="433.72" y2="123.40" stroke="#222" stroke-width="1.0"/>
<line x1="437.74" y1="121.00" x2="437.74" y2="122.80" stroke="#222" stroke-width="1.0"/>
<line x1="441.76" y1="121.00" x2="441.76" y2="122.80" stroke="#222" stroke-width="1.0"/>
<line x1="445.79" y1="121.00" x2="445.79" y2="122.80" stroke="#222" stroke-width="1.0"/>
<line x1="449.81" y1="121.00" x2="449.81" y2="122.80" stroke="#222" stroke-width="1.0"/>
<line x1="453.84" y1="121.00" x2="453.84" y2="123.40" stroke="#222" stroke-width="1.0"/>
<line x1="457.86" y1="121.00" x2="457.86" y2="122.80" stroke="#222" stroke-width="1.0"/>
<line x1="461.88" y1="121.00" x2="461.88" y2="122.80" stroke="#222" stroke-width="1.0"/>
<line x1="465.91" y1="121.00" x2="465.91" y2="122.80" stroke="#222" stroke-width="1.0"/>
<line x1="469.93" y1="121.00" x2="469.93" y2="122.80" stroke="#222" stroke-width="1.0"/>
<line x1="473.95" y1="121.00" x2="473.95" y2="123.40" stroke="#222" stroke-width="1.0"/>
<line x1="477.98" y1="121.00" x2="477.98" y2="122.80" stroke="#222" stroke-width="1.0"/>
<line x1="482.00" y1="121.00" x2="482.00" y2="122.80" stroke="#222" stroke-width="1.0"/>
<line x1="486.02" y1="121.00" x2="486.02" y2="122.80" stroke="#222" stroke-width="1.0"/>
<line x1="490.05" y1="121.00" x2="490.05" y2="122.80" stroke="#222" stroke-width="1.0"/>
<line x1="494.07" y1="121.00" x2="494.07" y2="123.40" stroke="#222" stroke-width="1.0"/>
<line x1="498.09" y1="121.00" x2="498.09" y2="122.80" stroke="#222" stroke-width="1.0"/>
<line x1="502.12" y1="121.00" x2="502.12" y2="122.80" stroke="#222" stroke-width="1.0"/>
<line x1="506.14" y1="121.00" x2="506.14" y2="122.80" stroke="#222" stroke-width="1.0"/>
<line x1="510.16" y1="121.00" x2="510.16" y2="122.80" stroke="#222" stroke-width="1.0"/>
<line x1="514.19" y1="121.00" x2="514.19" y2="123.40" stroke="#222" stroke-width="1.0"/>
<path d="M254 159h1.2v1.2h-1.2zM246 160h1.2v1.2h-1.2zM233 161h1.2v1.2h-1.2zM238 161h1.2v1.2h-1.2zM245 161h1.2v1.2h-1.2zM227 162h1.2v1.2h-1.2zM238 162h1.2v1.2h-1.2zM243 162h2.2v1.2h-2.2zM224 163h1.2v1.2h-1.2zM241 163h1.2v1.2h-1.2zM246 163h1.2v1.2h-1.2zM215 164h1.2v1.2h-1.2zM223 164h1.2v1.2h-1.2zM226 164h1.2v1.2h-1.2zM229 164h2.2v1.2h-2.2zM243 164h1.2v1.2h-1.2zM249 164h1.2v1.2h-1.2zM259 164h1.2v1.2h-1.2zM225 165h1.2v1.2h-1.2zM238 165h1.2v1.2h-1.2zM240 165h1.2v1.2h-1.2zM247 165h1.2v1.2h-1.2zM222 166h1.2v1.2h-1.2zM224 166h2.2v1.2h-2.2zM232 166h1.2v1.2h-1.2zM238 166h1.2v1.2h-1.2zM246 166h2.2v1.2h-2.2zM212 167h1.2v1.2h-1.2zM219 167h1.2v1.2h-1.2zM226 167h4.2v1.2h-4.2zM236 167h1.2v1.2h-1.2zM238 167h1.2v1.2h-1.2zM244 167h1.2v1.2h-1.2zM249 167h2.2v1.2h-2.2zM252 167h1.2v1.2h-1.2zM256 167h1.2v1.2h-1.2zM212 168h1.2v1.2h-1.2zM228 168h1.2v1.2h-1.2zM233 168h2.2v1.2h-2.2zM241 168h1.2v1.2h-1.2zM244 168h2.2v1.2h-2.2zM253 168h1.2v1.2h-1.2zM256 168h1.2v1.2h-1.2zM223 169h1.2v1.2h-1.2zM225 169h1.2v1.2h-1.2zM229 169h1.2v1.2h-1.2zM240 169h1.2v1.2h-1.2zM249 169h2.2v1.2h-2.2zM252 169h1.2v1.2h-1.2zM217 170h1.2v1.2h-1.2zM230 170h1.2v1.2h-1.2zM234 170h1.2v1.2h-1.2zM236 170h1.2v1.2h-1.2zM243 170h1.2v1.2h-1.2zM248 170h1.2v1.2h-1.2zM252 170h1.2v1.2h-1.2zM257 170h1.2v1.2h-1.2zM268 170h1.2v1.2h-1.2zM209 171h1.2v1.2h-1.2zM226 171h1.2v1.2h-1.2zM231 171h2.2v1.2h-2.2zM235 171h1.2v1.2h-1.2zM237 171h1.2v1.2h-1.2zM239 171h2.2v1.2h-2.2zM243 171h1.2v1.2h-1.2zM248 171h1.2v1.2h-1.2zM251 171h1.2v1.2h-1.2zM253 171h1.2v1.2h-1.2zM270 171h1.2v1.2h-1.2zM209 172h1.2v1.2h-1.2zM217 172h1.2v1.2h-1.2zM219 172h1.2v1.2h-1.2zM226 172h1.2v1.2h-1.2zM230 172h2.2v1.2h-2.2zM234 172h1.2v1.2h-1.2zM236 172h1.2v1.2h-1.2zM241 172h2.2v1.2h-2.2zM247 172h2.2v1.2h-2.2zM266 172h1.2v1.2h-1.2zM206 173h1.2v1.2h-1.2zM230 173h1.2v1.2h-1.2zM232 173h1.2v1.2h-1.2zM234 173h1.2v1.2h-1.2zM237 173h1.2v1.2h-1.2zM243 173h2.2v1.2h-2.2zM246 173h2.2v1.2h-2.2zM251 173h1.2v1.2h-1.2zM258 173h1.2v1.2h-1.2zM220 174h1.2v1.2h-1.2zM223 174h1.2v1.2h-1.2zM226 174h2.2v1.2h-2.2zM231 174h3.2v1.2h-3.2zM235 174h1.2v1.2h-1.2zM237 174h2.2v1.2h-2.2zM240 174h1.2v1.2h-1.2zM242 174h4.2v1.2h-4.2zM254 174h1.2v1.2h-1.2zM258 174h1.2v1.2h-1.2zM205 175h1.2v1.2h-1.2zM221 175h1.2v1.2h-1.2zM224 175h1.2v1.2h-1.2zM226 175h1.2v1.2h-1.2zM228 175h2.2v1.2h-2.2zM231 175h2.2v1.2h-2.2zM242 175h1.2v1.2h-1.2zM244 175h4.2v1.2h-4.2zM252 175h1.2v1.2h-1.2zM255 175h1.2v1.2h-1.2zM257 175h1.2v1.2h-1.2zM211 176h1.2v1.2h-1.2zM222 176h1.2v1.2h-1.2zM224 176h1.2v1.2h-1.2zM227 176h1.2v1.2h-1.2zM232 176h1.2v1.2h-1.2zM234 176h1.2v1.2h-1.2zM238 176h1.2v1.2h-1.2zM242 176h3.2v1.2h-3.2zM247 176h4.2v1.2h-4.2zM254 176h1.2v1.2h-1.2zM256 176h1.2v1.2h-1.2zM258 176h2.2v1.2h-2.2zM262 176h1.2v1.2h-1.2zM206 177h1.2v1.2h-1.2zM222 177h3.2v1.2h-3.2zM227 177h2.2v1.2h-2.2zM231 177h2.2v1.2h-2.2zM234 177h2.2v1.2h-2.2zM238 177h3.2v1.2h-3.2zM243 177h2.2v1.2h-2.2zM246 177h1.2v1.2h-1.2zM248 177h1.2v1.2h-1.2zM253 177h1.2v1.2h-1.2zM255 177h1.2v1.2h-1.2zM258 177h1.2v1.2h-1.2zM266 177h1.2v1.2h-1.2zM211 178h1.2v1.2h-1.2zM221 178h1.2v1.2h-1.2zM223 178h1.2v1.2h-1.2zM227 178h1.2v1.2h-1.2zM230 178h6.2v1.2h-6.2zM237 178h1.2v1.2h-1.2zM244 178h1.2v1.2h-1.2zM246 178h1.2v1.2h-1.2zM249 178h1.2v1.2h-1.2zM257 178h1.2v1.2h-1.2zM260 178h1.2v1.2h-1.2zM218 179h1.2v1.2h-1.2zM220 179h1.2v1.2h-1.2zM223 179h1.2v1.2h-1.2zM226 179h1.2v1.2h-1.2zM228 179h2.2v1.2h-2.2zM231 179h2.2v1.2h-2.2zM234 179h3.2v1.2h-3.2zM240 179h2.2v1.2h-2.2zM245 179h1.2v1.2h-1.2zM248 179h1.2v1.2h-1.2zM250 179h1.2v1.2h-1.2zM252 179h1.2v1.2h-1.2zM256 179h1.2v1.2h-1.2zM258 179h1.2v1.2h-1.2zM263 179h1.2v1.2h-1.2zM265 179h1.2v1.2h-1.2zM221 180h1.2v1.2h-1.2zM224 180h2.2v1.2h-2.2zM227 180h1.2v1.2h-1.2zM229 180h1.2v1.2h-1.2zM231 180h1.2v1.2h-1.2zM235 180h3.2v1.2h-3.2zM239 180h3.2v1.2h-3.2zM253 180h2.2v1.2h-2.2zM256 180h1.2v1.2h-1.2zM268 180h1.2v1.2h-1.2zM206 181h1.2v1.2h-1.2zM211 181h1.2v1.2h-1.2zM218 181h1.2v1.2h-1.2zM229 181h2.2v1.2h-2.2zM232 181h1.2v1.2h-1.2zM234 181h3.2v1.2h-3.2zM239 181h1.2v1.2h-1.2zM242 181h1.2v1.2h-1.2zM247 181h2.2v1.2h-2.2zM253 181h1.2v1.2h-1.2zM257 181h1.2v1.2h-1.2zM260 181h1.2v1.2h-1.2zM220 182h1.2v1.2h-1.2zM223 182h1.2v1.2h-1.2zM228 182h4.2v1.2h-4.2zM233 182h1.2v1.2h-1.2zM236 182h2.2v1.2h-2.2zM239 182h1.2v1.2h-1.2zM242 182h1.2v1.2h-1.2zM244 182h1.2v1.2h-1.2zM247 182h2.2v1.2h-2.2zM254 182h1.2v1.2h-1.2zM256 182h1.2v1.2h-1.2zM214 183h1.2v1.2h-1.2zM216 183h2.2v1.2h-2.2zM219 183h2.2v1.2h-2.2zM223 183h1.2v1.2h-1.2zM225 183h1.2v1.2h-1.2zM227 183h1.2v1.2h-1.2zM229 183h15.2v1.2h-15.2zM245 183h1.2v1.2h-1.2zM247 183h2.2v1.2h-2.2zM250 183h4.2v1.2h-4.2zM269 183h1.2v1.2h-1.2zM206 184h1.2v1.2h-1.2zM209 184h1.2v1.2h-1.2zM214 184h2.2v1.2h-2.2zM217 184h1.2v1.2h-1.2zM219 184h1.2v1.2h-1.2zM221 184h1.2v1.2h-1.2zM225 184h2.2v1.2h-2.2zM228 184h3.2v1.2h-3.2zM232 184h3.2v1.2h-3.2zM236 184h1.2v1.2h-1.2zM238 184h1.2v1.2h-1.2zM240 184h1.2v1.2h-1.2zM242 184h2.2v1.2h-2.2zM246 184h1.2v1.2h-1.2zM249 184h2.2v1.2h-2.2zM264 184h1.2v1.2h-1.2zM206 185h1.2v1.2h-1.2zM220 185h2.2v1.2h-2.2zM224 185h1.2v1.2h-1.2zM227 185h4.2v1.2h-4.2zM232 185h3.2v1.2h-3.2zM237 185h2.2v1.2h-2.2zM240 185h1.2v1.2h-1.2zM242 185h2.2v1.2h-2.2zM245 185h2.2v1.2h-2.2zM248 185h3.2v1.2h-3.2zM253 185h1.2v1.2h-1.2zM257 185h1.2v1.2h-1.2zM259 185h2.2v1.2h-2.2zM220 186h2.2v1.2h-2.2zM223 186h1.2v1.2h-1.2zM225 186h1.2v1.2h-1.2zM228 186h1.2v1.2h-1.2zM230 186h7.2v1.2h-7.2zM239 186h5.2v1.2h-5.2zM245 186h1.2v1.2h-1.2zM248 186h1.2v1.2h-1.2zM253 186h1.2v1.2h-1.2zM259 186h1.2v1.2h-1.2zM213 187h1.2v1.2h-1.2zM215 187h2.2v1.2h-2.2zM220 187h1.2v1.2h-1.2zM224 187h2.2v1.2h-2.2zM227 187h2.2v1.2h-2.2zM230 187h3.2v1.2h-3.2zM237 187h6.2v1.2h-6.2zM244 187h1.2v1.2h-1.2zM246 187h1.2v1.2h-1.2zM250 187h1.2v1.2h-1.2zM252 187h2.2v1.2h-2.2zM223 188h7.2v1.2h-7.2zM231 188h5.2v1.2h-5.2zM237 188h2.2v1.2h-2.2zM240 188h1.2v1.2h-1.2zM244 188h1.2v1.2h-1.2zM248 188h1.2v1.2h-1.2zM250 188h2.2v1.2h-2.2zM255 188h1.2v1.2h-1.2zM263 188h1.2v1.2h-1.2zM221 189h2.2v1.2h-2.2zM224 189h4.2v1.2h-4.2zM229 189h2.2v1.2h-2.2zM232 189h3.2v1.2h-3.2zM236 189h5.2v1.2h-5.2zM242 189h2.2v1.2h-2.2zM245 189h2.2v1.2h-2.2zM248 189h2.2v1.2h-2.2zM254 189h1.2v1.2h-1.2zM266 189h1.2v1.2h-1.2zM214 190h2.2v1.2h-2.2zM218 190h1.2v1.2h-1.2zM220 190h4.2v1.2h-4.2zM225 190h1.2v1.2h-1.2zM228 190h1.2v1.2h-1.2zM230 190h9.2v1.2h-9.2zM243 190h1.2v1.2h-1.2zM245 190h1.2v1.2h-1.2zM249 190h3.2v1.2h-3.2zM255 190h1.2v1.2h-1.2zM265 190h1.2v1.2h-1.2zM214 191h1.2v1.2h-1.2zM216 191h2.2v1.2h-2.2zM221 191h3.2v1.2h-3.2zM227 191h3.2v1.2h-3.2zM231 191h3.2v1.2h-3.2zM235 191h1.2v1.2h-1.2zM239 191h1.2v1.2h-1.2zM241 191h1.2v1.2h-1.2zM243 191h3.2v1.2h-3.2zM247 191h3.2v1.2h-3.2zM253 191h1.2v1.2h-1.2zM256 191h1.2v1.2h-1.2zM260 191h1.2v1.2h-1.2zM213 192h1.2v1.2h-1.2zM222 192h5.2v1.2h-5.2zM231 192h3.2v1.2h-3.2zM235 192h1.2v1.2h-1.2zM240 192h2.2v1.2h-2.2zM244 192h1.2v1.2h-1.2zM248 192h1.2v1.2h-1.2zM250 192h1.2v1.2h-1.2zM253 192h1.2v1.2h-1.2zM260 192h1.2v1.2h-1.2zM262 192h1.2v1.2h-1.2zM267 192h1.2v1.2h-1.2zM216 193h1.2v1.2h-1.2zM219 193h1.2v1.2h-1.2zM222 193h1.2v1.2h-1.2zM225 193h4.2v1.2h-4.2zM230 193h4.2v1.2h-4.2zM235 193h2.2v1.2h-2.2zM238 193h2.2v1.2h-2.2zM243 193h1.2v1.2h-1.2zM245 193h1.2v1.2h-1.2zM247 193h1.2v1.2h-1.2zM258 193h1.2v1.2h-1.2zM262 193h1.2v1.2h-1.2zM272 193h1.2v1.2h-1.2zM217 194h2.2v1.2h-2.2zM223 194h2.2v1.2h-2.2zM226 194h1.2v1.2h-1.2zM228 194h1.2v1.2h-1.2zM230 194h7.2v1.2h-7.2zM240 194h3.2v1.2h-3.2zM247 194h1.2v1.2h-1.2zM251 194h4.2v1.2h-4.2zM257 194h1.2v1.2h-1.2zM265 194h1.2v1.2h-1.2zM211 195h1.2v1.2h-1.2zM216 195h1.2v1.2h-1.2zM218 195h1.2v1.2h-1.2zM222 195h2.2v1.2h-2.2zM227 195h1.2v1.2h-1.2zM229 195h2.2v1.2h-2.2zM233 195h4.2v1.2h-4.2zM238 195h2.2v1.2h-2.2zM242 195h1.2v1.2h-1.2zM245 195h2.2v1.2h-2.2zM248 195h1.2v1.2h-1.2zM250 195h1.2v1.2h-1.2zM259 195h1.2v1.2h-1.2zM206 196h1.2v1.2h-1.2zM215 196h2.2v1.2h-2.2zM218 196h3.2v1.2h-3.2zM222 196h2.2v1.2h-2.2zM225 196h3.2v1.2h-3.2zM229 196h2.2v1.2h-2.2zM232 196h3.2v1.2h-3.2zM239 196h1.2v1.2h-1.2zM242 196h1.2v1.2h-1.2zM249 196h2.2v1.2h-2.2zM264 196h1.2v1.2h-1.2zM203 197h1.2v1.2h-1.2zM218 197h1.2v1.2h-1.2zM220 197h1.2v1.2h-1.2zM222 197h2.2v1.2h-2.2zM225 197h14.2v1.2h-14.2zM247 197h3.2v1.2h-3.2zM253 197h1.2v1.2h-1.2zM256 197h2.2v1.2h-2.2zM260 197h2.2v1.2h-2.2zM212 198h1.2v1.2h-1.2zM216 198h1.2v1.2h-1.2zM218 198h2.2v1.2h-2.2zM222 198h11.2v1.2h-11.2zM234 198h7.2v1.2h-7.2zM243 198h1.2v1.2h-1.2zM254 198h2.2v1.2h-2.2zM257 198h1.2v1.2h-1.2zM215 199h1.2v1.2h-1.2zM217 199h1.2v1.2h-1.2zM220 199h8.2v1.2h-8.2zM229 199h4.2v1.2h-4.2zM234 199h4.2v1.2h-4.2zM239 199h2.2v1.2h-2.2zM244 199h3.2v1.2h-3.2zM257 199h1.2v1.2h-1.2zM217 200h1.2v1.2h-1.2zM222 200h3.2v1.2h-3.2zM226 200h1.2v1.2h-1.2zM229 200h5.2v1.2h-5.2zM236 200h7.2v1.2h-7.2zM245 200h1.2v1.2h-1.2zM260 200h1.2v1.2h-1.2zM212 201h1.2v1.2h-1.2zM219 201h2.2v1.2h-2.2zM224 201h4.2v1.2h-4.2zM229 201h1.2v1.2h-1.2zM232 201h1.2v1.2h-1.2zM236 201h4.2v1.2h-4.2zM241 201h1.2v1.2h-1.2zM245 201h1.2v1.2h-1.2zM247 201h3.2v1.2h-3.2zM253 201h1.2v1.2h-1.2zM217 202h2.2v1.2h-2.2zM222 202h2.2v1.2h-2.2zM226 202h3.2v1.2h-3.2zM230 202h2.2v1.2h-2.2zM233 202h7.2v1.2h-7.2zM241 202h1.2v1.2h-1.2zM243 202h1.2v1.2h-1.2zM263 202h2.2v1.2h-2.2zM215 203h3.2v1.2h-3.2zM222 203h1.2v1.2h-1.2zM224 203h1.2v1.2h-1.2zM226 203h2.2v1.2h-2.2zM229 203h3.2v1.2h-3.2zM234 203h1.2v1.2h-1.2zM237 203h1.2v1.2h-1.2zM240 203h1.2v1.2h-1.2zM244 203h1.2v1.2h-1.2zM252 203h1.2v1.2h-1.2zM213 204h1.2v1.2h-1.2zM216 204h1.2v1.2h-1.2zM218 204h1.2v1.2h-1.2zM220 204h1.2v1.2h-1.2zM223 204h2.2v1.2h-2.2zM226 204h3.2v1.2h-3.2zM230 204h9.2v1.2h-9.2zM240 204h1.2v1.2h-1.2zM244 204h2.2v1.2h-2.2zM247 204h1.2v1.2h-1.2zM207 205h1.2v1.2h-1.2zM212 205h1.2v1.2h-1.2zM218 205h1.2v1.2h-1.2zM222 205h2.2v1.2h-2.2zM226 205h2.2v1.2h-2.2zM230 205h2.2v1.2h-2.2zM233 205h2.2v1.2h-2.2zM236 205h2.2v1.2h-2.2zM239 205h1.2v1.2h-1.2zM241 205h4.2v1.2h-4.2zM252 205h2.2v1.2h-2.2zM264 205h1.2v1.2h-1.2zM216 206h1.2v1.2h-1.2zM221 206h3.2v1.2h-3.2zM225 206h1.2v1.2h-1.2zM227 206h1.2v1.2h-1.2zM229 206h2.2v1.2h-2.2zM233 206h4.2v1.2h-4.2zM241 206h1.2v1.2h-1.2zM245 206h1.2v1.2h-1.2zM212 207h1.2v1.2h-1.2zM217 207h2.2v1.2h-2.2zM224 207h4.2v1.2h-4.2zM229 207h1.2v1.2h-1.2zM231 207h3.2v1.2h-3.2zM235 207h1.2v1.2h-1.2zM237 207h4.2v1.2h-4.2zM242 207h1.2v1.2h-1.2zM245 207h2.2v1.2h-2.2zM270 207h1.2v1.2h-1.2zM214 208h1.2v1.2h-1.2zM219 208h1.2v1.2h-1.2zM221 208h1.2v1.2h-1.2zM223 208h3.2v1.2h-3.2zM227 208h1.2v1.2h-1.2zM229 208h1.2v1.2h-1.2zM231 208h6.2v1.2h-6.2zM238 208h2.2v1.2h-2.2zM243 208h1.2v1.2h-1.2zM246 208h1.2v1.2h-1.2zM249 208h2.2v1.2h-2.2zM216 209h2.2v1.2h-2.2zM219 209h3.2v1.2h-3.2zM224 209h1.2v1.2h-1.2zM226 209h1.2v1.2h-1.2zM228 209h1.2v1.2h-1.2zM230 209h1.2v1.2h-1.2zM232 209h1.2v1.2h-1.2zM234 209h3.2v1.2h-3.2zM242 209h1.2v1.2h-1.2zM245 209h1.2v1.2h-1.2zM256 209h1.2v1.2h-1.2zM274 209h1.2v1.2h-1.2zM215 210h1.2v1.2h-1.2zM218 210h1.2v1.2h-1.2zM220 210h3.2v1.2h-3.2zM224 210h1.2v1.2h-1.2zM227 210h5.2v1.2h-5.2zM234 210h1.2v1.2h-1.2zM236 210h3.2v1.2h-3.2zM240 210h1.2v1.2h-1.2zM242 210h1.2v1.2h-1.2zM247 210h3.2v1.2h-3.2zM257 210h1.2v1.2h-1.2zM221 211h1.2v1.2h-1.2zM223 211h4.2v1.2h-4.2zM228 211h3.2v1.2h-3.2zM232 211h3.2v1.2h-3.2zM236 211h1.2v1.2h-1.2zM238 211h2.2v1.2h-2.2zM243 211h1.2v1.2h-1.2zM252 211h1.2v1.2h-1.2zM222 212h2.2v1.2h-2.2zM227 212h2.2v1.2h-2.2zM230 212h2.2v1.2h-2.2zM235 212h2.2v1.2h-2.2zM239 212h2.2v1.2h-2.2zM243 212h1.2v1.2h-1.2zM245 212h1.2v1.2h-1.2zM247 212h1.2v1.2h-1.2zM262 212h1.2v1.2h-1.2zM217 213h1.2v1.2h-1.2zM220 213h1.2v1.2h-1.2zM223 213h1.2v1.2h-1.2zM225 213h2.2v1.2h-2.2zM229 213h3.2v1.2h-3.2zM234 213h4.2v1.2h-4.2zM239 213h2.2v1.2h-2.2zM243 213h1.2v1.2h-1.2zM270 213h1.2v1.2h-1.2zM214 214h1.2v1.2h-1.2zM225 214h2.2v1.2h-2.2zM233 214h1.2v1.2h-1.2zM235 214h1.2v1.2h-1.2zM237 214h1.2v1.2h-1.2zM239 214h1.2v1.2h-1.2zM241 214h1.2v1.2h-1.2zM253 214h1.2v1.2h-1.2zM205 215h1.2v1.2h-1.2zM216 215h2.2v1.2h-2.2zM220 215h1.2v1.2h-1.2zM222 215h1.2v1.2h-1.2zM227 215h1.2v1.2h-1.2zM229 215h1.2v1.2h-1.2zM232 215h3.2v1.2h-3.2zM237 215h2.2v1.2h-2.2zM240 215h1.2v1.2h-1.2zM244 215h1.2v1.2h-1.2zM252 215h1.2v1.2h-1.2zM224 216h1.2v1.2h-1.2zM228 216h2.2v1.2h-2.2zM231 216h1.2v1.2h-1.2zM234 216h3.2v1.2h-3.2zM238 216h1.2v1.2h-1.2zM241 216h1.2v1.2h-1.2zM255 216h1.2v1.2h-1.2zM268 216h1.2v1.2h-1.2zM220 217h1.2v1.2h-1.2zM223 217h4.2v1.2h-4.2zM228 217h1.2v1.2h-1.2zM230 217h1.2v1.2h-1.2zM232 217h1.2v1.2h-1.2zM234 217h1.2v1.2h-1.2zM237 217h1.2v1.2h-1.2zM239 217h1.2v1.2h-1.2zM248 217h1.2v1.2h-1.2zM275 217h1.2v1.2h-1.2zM220 218h1.2v1.2h-1.2zM222 218h5.2v1.2h-5.2zM229 218h1.2v1.2h-1.2zM233 218h1.2v1.2h-1.2zM235 218h1.2v1.2h-1.2zM241 218h1.2v1.2h-1.2zM221 219h2.2v1.2h-2.2zM228 219h1.2v1.2h-1.2zM232 219h1.2v1.2h-1.2zM234 219h1.2v1.2h-1.2zM238 219h1.2v1.2h-1.2zM217 220h1.2v1.2h-1.2zM221 220h1.2v1.2h-1.2zM227 220h2.2v1.2h-2.2zM231 220h1.2v1.2h-1.2zM236 220h1.2v1.2h-1.2zM250 220h1.2v1.2h-1.2zM223 221h1.2v1.2h-1.2zM227 221h1.2v1.2h-1.2zM233 221h2.2v1.2h-2.2zM237 221h1.2v1.2h-1.2zM231 222h1.2v1.2h-1.2zM246 222h1.2v1.2h-1.2zM250 222h1.2v1.2h-1.2zM219 223h1.2v1.2h-1.2zM221 223h1.2v1.2h-1.2zM225 223h1.2v1.2h-1.2zM228 223h1.2v1.2h-1.2zM230 223h1.2v1.2h-1.2zM233 223h1.2v1.2h-1.2zM248 223h1.2v1.2h-1.2zM222 224h1.2v1.2h-1.2zM225 224h1.2v1.2h-1.2zM228 224h1.2v1.2h-1.2zM231 224h1.2v1.2h-1.2zM233 224h1.2v1.2h-1.2zM237 224h1.2v1.2h-1.2zM258 224h1.2v1.2h-1.2zM225 225h1.2v1.2h-1.2zM233 225h1.2v1.2h-1.2zM255 225h1.2v1.2h-1.2zM221 226h1.2v1.2h-1.2zM226 226h1.2v1.2h-1.2zM233 226h1.2v1.2h-1.2zM240 226h1.2v1.2h-1.2zM213 227h1.2v1.2h-1.2zM225 227h1.2v1.2h-1.2zM230 227h1.2v1.2h-1.2zM232 227h1.2v1.2h-1.2zM240 227h1.2v1.2h-1.2zM257 228h1.2v1.2h-1.2zM204 229h1.2v1.2h-1.2zM219 229h1.2v1.2h-1.2zM271 229h1.2v1.2h-1.2zM219 230h1.2v1.2h-1.2zM223 230h1.2v1.2h-1.2zM219 232h2.2v1.2h-2.2zM223 233h1.2v1.2h-1.2zM225 233h1.2v1.2h-1.2zM227 233h1.2v1.2h-1.2zM226 234h1.2v1.2h-1.2zM231 234h1.2v1.2h-1.2zM221 235h1.2v1.2h-1.2zM222 238h1.2v1.2h-1.2zM211 239h1.2v1.2h-1.2zM222 239h1.2v1.2h-1.2zM270 239h1.2v1.2h-1.2zM233 241h1.2v1.2h-1.2zM218 242h1.2v1.2h-1.2zM231 243h1.2v1.2h-1.2zM221 244h1.2v1.2h-1.2zM232 245h1.2v1.2h-1.2zM235 245h1.2v1.2h-1.2zM220 248h1.2v1.2h-1.2z" fill="#111" fill-opacity="0.9"/>
<line x1="175.20" y1="229.10" x2="277.90" y2="229.10" stroke="#222" stroke-width="1.0"/>
<line x1="201.30" y1="145.30" x2="201.30" y2="250.40" stroke="#222" stroke-width="1.0"/>
<rect x="175.2" y="145.3" width="102.69999999999999" height="105.1" fill="none" stroke="#222" stroke-width="1.0"/>
<rect x="176.39999999999998" y="147.3" width="26.0" height="12.0" fill="#fff"/>
<text x="176.90" y="156.60" font-size="8.8" text-anchor="start" font-weight="normal" textLength="25.0" lengthAdjust="spacingAndGlyphs">+MCM</text>
<text x="179.10" y="167.50" font-size="8.8" text-anchor="start" font-weight="normal" >d14</text>
<rect x="242.2" y="147.3" width="31" height="14.2" fill="#fff"/>
<text x="273.2" y="157.0" font-size="9" text-anchor="end">3.7x10<tspan dy="-2.9" font-size="7">6</tspan></text>
<line x1="172.60" y1="250.40" x2="175.20" y2="250.40" stroke="#222" stroke-width="1.0"/>
<line x1="173.40" y1="242.49" x2="175.20" y2="242.49" stroke="#222" stroke-width="1.0"/>
<line x1="173.40" y1="237.86" x2="175.20" y2="237.86" stroke="#222" stroke-width="1.0"/>
<line x1="173.40" y1="234.58" x2="175.20" y2="234.58" stroke="#222" stroke-width="1.0"/>
<line x1="173.40" y1="232.03" x2="175.20" y2="232.03" stroke="#222" stroke-width="1.0"/>
<line x1="173.40" y1="229.95" x2="175.20" y2="229.95" stroke="#222" stroke-width="1.0"/>
<line x1="173.40" y1="228.20" x2="175.20" y2="228.20" stroke="#222" stroke-width="1.0"/>
<line x1="173.40" y1="226.67" x2="175.20" y2="226.67" stroke="#222" stroke-width="1.0"/>
<line x1="173.40" y1="225.33" x2="175.20" y2="225.33" stroke="#222" stroke-width="1.0"/>
<line x1="172.60" y1="224.12" x2="175.20" y2="224.12" stroke="#222" stroke-width="1.0"/>
<line x1="173.40" y1="216.22" x2="175.20" y2="216.22" stroke="#222" stroke-width="1.0"/>
<line x1="173.40" y1="211.59" x2="175.20" y2="211.59" stroke="#222" stroke-width="1.0"/>
<line x1="173.40" y1="208.31" x2="175.20" y2="208.31" stroke="#222" stroke-width="1.0"/>
<line x1="173.40" y1="205.76" x2="175.20" y2="205.76" stroke="#222" stroke-width="1.0"/>
<line x1="173.40" y1="203.68" x2="175.20" y2="203.68" stroke="#222" stroke-width="1.0"/>
<line x1="173.40" y1="201.92" x2="175.20" y2="201.92" stroke="#222" stroke-width="1.0"/>
<line x1="173.40" y1="200.40" x2="175.20" y2="200.40" stroke="#222" stroke-width="1.0"/>
<line x1="173.40" y1="199.05" x2="175.20" y2="199.05" stroke="#222" stroke-width="1.0"/>
<line x1="172.60" y1="197.85" x2="175.20" y2="197.85" stroke="#222" stroke-width="1.0"/>
<line x1="173.40" y1="189.94" x2="175.20" y2="189.94" stroke="#222" stroke-width="1.0"/>
<line x1="173.40" y1="185.31" x2="175.20" y2="185.31" stroke="#222" stroke-width="1.0"/>
<line x1="173.40" y1="182.03" x2="175.20" y2="182.03" stroke="#222" stroke-width="1.0"/>
<line x1="173.40" y1="179.48" x2="175.20" y2="179.48" stroke="#222" stroke-width="1.0"/>
<line x1="173.40" y1="177.40" x2="175.20" y2="177.40" stroke="#222" stroke-width="1.0"/>
<line x1="173.40" y1="175.65" x2="175.20" y2="175.65" stroke="#222" stroke-width="1.0"/>
<line x1="173.40" y1="174.12" x2="175.20" y2="174.12" stroke="#222" stroke-width="1.0"/>
<line x1="173.40" y1="172.78" x2="175.20" y2="172.78" stroke="#222" stroke-width="1.0"/>
<line x1="172.60" y1="171.58" x2="175.20" y2="171.58" stroke="#222" stroke-width="1.0"/>
<line x1="173.40" y1="163.67" x2="175.20" y2="163.67" stroke="#222" stroke-width="1.0"/>
<line x1="173.40" y1="159.04" x2="175.20" y2="159.04" stroke="#222" stroke-width="1.0"/>
<line x1="173.40" y1="155.76" x2="175.20" y2="155.76" stroke="#222" stroke-width="1.0"/>
<line x1="173.40" y1="153.21" x2="175.20" y2="153.21" stroke="#222" stroke-width="1.0"/>
<line x1="173.40" y1="151.13" x2="175.20" y2="151.13" stroke="#222" stroke-width="1.0"/>
<line x1="173.40" y1="149.37" x2="175.20" y2="149.37" stroke="#222" stroke-width="1.0"/>
<line x1="173.40" y1="147.85" x2="175.20" y2="147.85" stroke="#222" stroke-width="1.0"/>
<line x1="173.40" y1="146.50" x2="175.20" y2="146.50" stroke="#222" stroke-width="1.0"/>
<line x1="173.00" y1="145.30" x2="175.20" y2="145.30" stroke="#333" stroke-width="0.8"/>
<text transform="translate(171.5,255.0) rotate(-90)" font-size="6.1" font-weight="bold" fill="#222">10<tspan dy="-2.2" font-size="4.4">0</tspan></text>
<text transform="translate(171.5,228.725) rotate(-90)" font-size="6.1" font-weight="bold" fill="#222">10<tspan dy="-2.2" font-size="4.4">1</tspan></text>
<text transform="translate(171.5,202.45000000000002) rotate(-90)" font-size="6.1" font-weight="bold" fill="#222">10<tspan dy="-2.2" font-size="4.4">2</tspan></text>
<text transform="translate(171.5,176.175) rotate(-90)" font-size="6.1" font-weight="bold" fill="#222">10<tspan dy="-2.2" font-size="4.4">3</tspan></text>
<text transform="translate(171.5,149.9) rotate(-90)" font-size="6.1" font-weight="bold" fill="#222">10<tspan dy="-2.2" font-size="4.4">4</tspan></text>
<line x1="175.20" y1="250.40" x2="175.20" y2="252.80" stroke="#222" stroke-width="1.0"/>
<line x1="179.23" y1="250.40" x2="179.23" y2="252.20" stroke="#222" stroke-width="1.0"/>
<line x1="183.25" y1="250.40" x2="183.25" y2="252.20" stroke="#222" stroke-width="1.0"/>
<line x1="187.28" y1="250.40" x2="187.28" y2="252.20" stroke="#222" stroke-width="1.0"/>
<line x1="191.31" y1="250.40" x2="191.31" y2="252.20" stroke="#222" stroke-width="1.0"/>
<line x1="195.34" y1="250.40" x2="195.34" y2="252.80" stroke="#222" stroke-width="1.0"/>
<line x1="199.36" y1="250.40" x2="199.36" y2="252.20" stroke="#222" stroke-width="1.0"/>
<line x1="203.39" y1="250.40" x2="203.39" y2="252.20" stroke="#222" stroke-width="1.0"/>
<line x1="207.42" y1="250.40" x2="207.42" y2="252.20" stroke="#222" stroke-width="1.0"/>
<line x1="211.45" y1="250.40" x2="211.45" y2="252.20" stroke="#222" stroke-width="1.0"/>
<line x1="215.47" y1="250.40" x2="215.47" y2="252.80" stroke="#222" stroke-width="1.0"/>
<line x1="219.50" y1="250.40" x2="219.50" y2="252.20" stroke="#222" stroke-width="1.0"/>
<line x1="223.53" y1="250.40" x2="223.53" y2="252.20" stroke="#222" stroke-width="1.0"/>
<line x1="227.56" y1="250.40" x2="227.56" y2="252.20" stroke="#222" stroke-width="1.0"/>
<line x1="231.58" y1="250.40" x2="231.58" y2="252.20" stroke="#222" stroke-width="1.0"/>
<line x1="235.61" y1="250.40" x2="235.61" y2="252.80" stroke="#222" stroke-width="1.0"/>
<line x1="239.64" y1="250.40" x2="239.64" y2="252.20" stroke="#222" stroke-width="1.0"/>
<line x1="243.67" y1="250.40" x2="243.67" y2="252.20" stroke="#222" stroke-width="1.0"/>
<line x1="247.69" y1="250.40" x2="247.69" y2="252.20" stroke="#222" stroke-width="1.0"/>
<line x1="251.72" y1="250.40" x2="251.72" y2="252.20" stroke="#222" stroke-width="1.0"/>
<line x1="255.75" y1="250.40" x2="255.75" y2="252.80" stroke="#222" stroke-width="1.0"/>
<line x1="259.78" y1="250.40" x2="259.78" y2="252.20" stroke="#222" stroke-width="1.0"/>
<line x1="263.80" y1="250.40" x2="263.80" y2="252.20" stroke="#222" stroke-width="1.0"/>
<line x1="267.83" y1="250.40" x2="267.83" y2="252.20" stroke="#222" stroke-width="1.0"/>
<line x1="271.86" y1="250.40" x2="271.86" y2="252.20" stroke="#222" stroke-width="1.0"/>
<line x1="275.89" y1="250.40" x2="275.89" y2="252.80" stroke="#222" stroke-width="1.0"/>
<text x="173.7" y="258.5" font-size="7" font-weight="bold" fill="#222" textLength="4.0" lengthAdjust="spacingAndGlyphs">0</text>
<text x="191.8" y="258.5" font-size="7" font-weight="bold" fill="#222" textLength="7.0" lengthAdjust="spacingAndGlyphs">50</text>
<text x="209.8" y="258.5" font-size="7" font-weight="bold" fill="#222" textLength="10.2" lengthAdjust="spacingAndGlyphs">100</text>
<text x="229.4" y="258.5" font-size="7" font-weight="bold" fill="#222" textLength="10.2" lengthAdjust="spacingAndGlyphs">150</text>
<text x="249.0" y="258.5" font-size="7" font-weight="bold" fill="#222" textLength="10.2" lengthAdjust="spacingAndGlyphs">200</text>
<text x="268.6" y="258.5" font-size="7" font-weight="bold" fill="#222" textLength="10.2" lengthAdjust="spacingAndGlyphs">250</text>
<path d="M365 199h1.2v1.2h-1.2zM369 201h1.2v1.2h-1.2zM342 203h2.2v1.2h-2.2zM364 203h1.2v1.2h-1.2zM366 203h1.2v1.2h-1.2zM383 203h1.2v1.2h-1.2zM364 204h1.2v1.2h-1.2zM388 204h1.2v1.2h-1.2zM343 205h1.2v1.2h-1.2zM346 205h2.2v1.2h-2.2zM351 205h1.2v1.2h-1.2zM372 205h2.2v1.2h-2.2zM377 205h1.2v1.2h-1.2zM337 206h2.2v1.2h-2.2zM344 206h1.2v1.2h-1.2zM358 206h1.2v1.2h-1.2zM362 206h2.2v1.2h-2.2zM337 207h1.2v1.2h-1.2zM346 207h2.2v1.2h-2.2zM355 207h1.2v1.2h-1.2zM369 207h1.2v1.2h-1.2zM335 208h1.2v1.2h-1.2zM343 208h2.2v1.2h-2.2zM350 208h3.2v1.2h-3.2zM355 208h1.2v1.2h-1.2zM369 208h1.2v1.2h-1.2zM337 209h1.2v1.2h-1.2zM342 209h1.2v1.2h-1.2zM345 209h1.2v1.2h-1.2zM348 209h1.2v1.2h-1.2zM353 209h1.2v1.2h-1.2zM364 209h1.2v1.2h-1.2zM369 209h1.2v1.2h-1.2zM388 209h1.2v1.2h-1.2zM349 210h2.2v1.2h-2.2zM358 210h1.2v1.2h-1.2zM382 210h1.2v1.2h-1.2zM335 211h3.2v1.2h-3.2zM345 211h1.2v1.2h-1.2zM354 211h1.2v1.2h-1.2zM356 211h1.2v1.2h-1.2zM380 211h1.2v1.2h-1.2zM340 212h1.2v1.2h-1.2zM344 212h2.2v1.2h-2.2zM349 212h1.2v1.2h-1.2zM354 212h1.2v1.2h-1.2zM361 212h1.2v1.2h-1.2zM370 212h1.2v1.2h-1.2zM381 212h1.2v1.2h-1.2zM389 212h1.2v1.2h-1.2zM342 213h1.2v1.2h-1.2zM350 213h1.2v1.2h-1.2zM353 213h1.2v1.2h-1.2zM357 213h1.2v1.2h-1.2zM359 213h2.2v1.2h-2.2zM377 213h1.2v1.2h-1.2zM338 214h1.2v1.2h-1.2zM352 214h1.2v1.2h-1.2zM354 214h3.2v1.2h-3.2zM361 214h1.2v1.2h-1.2zM366 214h3.2v1.2h-3.2zM373 214h1.2v1.2h-1.2zM336 215h2.2v1.2h-2.2zM347 215h3.2v1.2h-3.2zM357 215h1.2v1.2h-1.2zM359 215h1.2v1.2h-1.2zM371 215h1.2v1.2h-1.2zM373 215h1.2v1.2h-1.2zM380 215h1.2v1.2h-1.2zM383 215h1.2v1.2h-1.2zM337 216h1.2v1.2h-1.2zM339 216h1.2v1.2h-1.2zM350 216h1.2v1.2h-1.2zM353 216h1.2v1.2h-1.2zM356 216h1.2v1.2h-1.2zM365 216h1.2v1.2h-1.2zM367 216h1.2v1.2h-1.2zM371 216h1.2v1.2h-1.2zM377 216h1.2v1.2h-1.2zM379 216h1.2v1.2h-1.2zM335 217h1.2v1.2h-1.2zM338 217h1.2v1.2h-1.2zM340 217h2.2v1.2h-2.2zM343 217h1.2v1.2h-1.2zM346 217h1.2v1.2h-1.2zM352 217h2.2v1.2h-2.2zM356 217h1.2v1.2h-1.2zM359 217h1.2v1.2h-1.2zM364 217h1.2v1.2h-1.2zM368 217h1.2v1.2h-1.2zM385 217h1.2v1.2h-1.2zM336 218h1.2v1.2h-1.2zM338 218h1.2v1.2h-1.2zM347 218h1.2v1.2h-1.2zM353 218h1.2v1.2h-1.2zM357 218h1.2v1.2h-1.2zM359 218h2.2v1.2h-2.2zM363 218h2.2v1.2h-2.2zM335 219h1.2v1.2h-1.2zM341 219h1.2v1.2h-1.2zM343 219h2.2v1.2h-2.2zM349 219h2.2v1.2h-2.2zM356 219h1.2v1.2h-1.2zM359 219h1.2v1.2h-1.2zM363 219h3.2v1.2h-3.2zM371 219h2.2v1.2h-2.2zM335 220h6.2v1.2h-6.2zM345 220h3.2v1.2h-3.2zM351 220h2.2v1.2h-2.2zM355 220h1.2v1.2h-1.2zM358 220h1.2v1.2h-1.2zM361 220h2.2v1.2h-2.2zM364 220h1.2v1.2h-1.2zM371 220h1.2v1.2h-1.2zM335 221h3.2v1.2h-3.2zM340 221h1.2v1.2h-1.2zM343 221h9.2v1.2h-9.2zM355 221h1.2v1.2h-1.2zM357 221h2.2v1.2h-2.2zM362 221h1.2v1.2h-1.2zM365 221h1.2v1.2h-1.2zM374 221h1.2v1.2h-1.2zM338 222h1.2v1.2h-1.2zM341 222h1.2v1.2h-1.2zM343 222h3.2v1.2h-3.2zM348 222h2.2v1.2h-2.2zM351 222h1.2v1.2h-1.2zM353 222h2.2v1.2h-2.2zM358 222h1.2v1.2h-1.2zM360 222h1.2v1.2h-1.2zM363 222h1.2v1.2h-1.2zM366 222h2.2v1.2h-2.2zM369 222h1.2v1.2h-1.2zM374 222h1.2v1.2h-1.2zM377 222h3.2v1.2h-3.2zM381 222h1.2v1.2h-1.2zM385 222h1.2v1.2h-1.2zM336 223h1.2v1.2h-1.2zM343 223h2.2v1.2h-2.2zM348 223h2.2v1.2h-2.2zM351 223h2.2v1.2h-2.2zM354 223h1.2v1.2h-1.2zM356 223h2.2v1.2h-2.2zM359 223h5.2v1.2h-5.2zM367 223h1.2v1.2h-1.2zM377 223h1.2v1.2h-1.2zM335 224h1.2v1.2h-1.2zM338 224h1.2v1.2h-1.2zM340 224h2.2v1.2h-2.2zM343 224h2.2v1.2h-2.2zM346 224h1.2v1.2h-1.2zM348 224h1.2v1.2h-1.2zM353 224h4.2v1.2h-4.2zM359 224h1.2v1.2h-1.2zM363 224h1.2v1.2h-1.2zM366 224h2.2v1.2h-2.2zM369 224h1.2v1.2h-1.2zM375 224h2.2v1.2h-2.2zM382 224h1.2v1.2h-1.2zM335 225h1.2v1.2h-1.2zM341 225h1.2v1.2h-1.2zM343 225h3.2v1.2h-3.2zM347 225h3.2v1.2h-3.2zM353 225h1.2v1.2h-1.2zM355 225h2.2v1.2h-2.2zM359 225h1.2v1.2h-1.2zM362 225h1.2v1.2h-1.2zM365 225h1.2v1.2h-1.2zM367 225h2.2v1.2h-2.2zM371 225h2.2v1.2h-2.2zM375 225h2.2v1.2h-2.2zM337 226h4.2v1.2h-4.2zM342 226h4.2v1.2h-4.2zM347 226h1.2v1.2h-1.2zM349 226h1.2v1.2h-1.2zM352 226h4.2v1.2h-4.2zM357 226h4.2v1.2h-4.2zM362 226h1.2v1.2h-1.2zM366 226h1.2v1.2h-1.2zM368 226h1.2v1.2h-1.2zM372 226h1.2v1.2h-1.2zM375 226h1.2v1.2h-1.2zM378 226h1.2v1.2h-1.2zM381 226h1.2v1.2h-1.2zM336 227h4.2v1.2h-4.2zM343 227h2.2v1.2h-2.2zM346 227h3.2v1.2h-3.2zM350 227h2.2v1.2h-2.2zM355 227h5.2v1.2h-5.2zM364 227h2.2v1.2h-2.2zM367 227h1.2v1.2h-1.2zM370 227h2.2v1.2h-2.2zM376 227h1.2v1.2h-1.2zM337 228h1.2v1.2h-1.2zM339 228h1.2v1.2h-1.2zM342 228h1.2v1.2h-1.2zM344 228h5.2v1.2h-5.2zM351 228h1.2v1.2h-1.2zM357 228h1.2v1.2h-1.2zM359 228h3.2v1.2h-3.2zM364 228h1.2v1.2h-1.2zM369 228h2.2v1.2h-2.2zM372 228h1.2v1.2h-1.2zM375 228h3.2v1.2h-3.2zM385 228h1.2v1.2h-1.2zM337 229h1.2v1.2h-1.2zM340 229h1.2v1.2h-1.2zM344 229h9.2v1.2h-9.2zM354 229h2.2v1.2h-2.2zM357 229h2.2v1.2h-2.2zM361 229h1.2v1.2h-1.2zM363 229h1.2v1.2h-1.2zM367 229h1.2v1.2h-1.2zM369 229h4.2v1.2h-4.2zM374 229h1.2v1.2h-1.2zM383 229h1.2v1.2h-1.2zM337 230h2.2v1.2h-2.2zM342 230h1.2v1.2h-1.2zM344 230h1.2v1.2h-1.2zM346 230h2.2v1.2h-2.2zM350 230h4.2v1.2h-4.2zM355 230h1.2v1.2h-1.2zM357 230h1.2v1.2h-1.2zM360 230h1.2v1.2h-1.2zM362 230h4.2v1.2h-4.2zM367 230h4.2v1.2h-4.2zM373 230h1.2v1.2h-1.2zM378 230h1.2v1.2h-1.2zM387 230h1.2v1.2h-1.2zM337 231h1.2v1.2h-1.2zM340 231h2.2v1.2h-2.2zM343 231h2.2v1.2h-2.2zM346 231h4.2v1.2h-4.2zM351 231h1.2v1.2h-1.2zM353 231h2.2v1.2h-2.2zM358 231h5.2v1.2h-5.2zM364 231h2.2v1.2h-2.2zM367 231h1.2v1.2h-1.2zM369 231h2.2v1.2h-2.2zM372 231h1.2v1.2h-1.2zM376 231h1.2v1.2h-1.2zM379 231h1.2v1.2h-1.2zM387 231h1.2v1.2h-1.2zM335 232h4.2v1.2h-4.2zM342 232h6.2v1.2h-6.2zM349 232h3.2v1.2h-3.2zM354 232h2.2v1.2h-2.2zM358 232h1.2v1.2h-1.2zM360 232h1.2v1.2h-1.2zM364 232h1.2v1.2h-1.2zM366 232h1.2v1.2h-1.2zM369 232h3.2v1.2h-3.2zM373 232h1.2v1.2h-1.2zM377 232h1.2v1.2h-1.2zM335 233h2.2v1.2h-2.2zM338 233h1.2v1.2h-1.2zM341 233h1.2v1.2h-1.2zM345 233h1.2v1.2h-1.2zM347 233h9.2v1.2h-9.2zM358 233h5.2v1.2h-5.2zM364 233h2.2v1.2h-2.2zM371 233h1.2v1.2h-1.2zM374 233h2.2v1.2h-2.2zM336 234h2.2v1.2h-2.2zM339 234h1.2v1.2h-1.2zM342 234h1.2v1.2h-1.2zM344 234h1.2v1.2h-1.2zM346 234h1.2v1.2h-1.2zM349 234h2.2v1.2h-2.2zM353 234h1.2v1.2h-1.2zM356 234h2.2v1.2h-2.2zM359 234h1.2v1.2h-1.2zM361 234h3.2v1.2h-3.2zM375 234h2.2v1.2h-2.2zM381 234h1.2v1.2h-1.2zM336 235h1.2v1.2h-1.2zM338 235h2.2v1.2h-2.2zM345 235h4.2v1.2h-4.2zM350 235h1.2v1.2h-1.2zM353 235h1.2v1.2h-1.2zM356 235h1.2v1.2h-1.2zM358 235h2.2v1.2h-2.2zM363 235h1.2v1.2h-1.2zM365 235h1.2v1.2h-1.2zM369 235h1.2v1.2h-1.2zM335 236h1.2v1.2h-1.2zM337 236h1.2v1.2h-1.2zM339 236h5.2v1.2h-5.2zM346 236h1.2v1.2h-1.2zM348 236h1.2v1.2h-1.2zM350 236h2.2v1.2h-2.2zM353 236h1.2v1.2h-1.2zM356 236h1.2v1.2h-1.2zM358 236h2.2v1.2h-2.2zM363 236h1.2v1.2h-1.2zM365 236h1.2v1.2h-1.2zM369 236h1.2v1.2h-1.2zM371 236h1.2v1.2h-1.2zM377 236h1.2v1.2h-1.2zM338 237h2.2v1.2h-2.2zM341 237h2.2v1.2h-2.2zM344 237h3.2v1.2h-3.2zM348 237h2.2v1.2h-2.2zM351 237h2.2v1.2h-2.2zM360 237h1.2v1.2h-1.2zM363 237h1.2v1.2h-1.2zM366 237h1.2v1.2h-1.2zM368 237h1.2v1.2h-1.2zM379 237h1.2v1.2h-1.2zM384 237h1.2v1.2h-1.2zM336 238h1.2v1.2h-1.2zM339 238h3.2v1.2h-3.2zM348 238h2.2v1.2h-2.2zM355 238h2.2v1.2h-2.2zM359 238h2.2v1.2h-2.2zM365 238h1.2v1.2h-1.2zM372 238h1.2v1.2h-1.2zM377 238h1.2v1.2h-1.2zM381 238h1.2v1.2h-1.2zM336 239h1.2v1.2h-1.2zM339 239h1.2v1.2h-1.2zM345 239h1.2v1.2h-1.2zM348 239h1.2v1.2h-1.2zM351 239h4.2v1.2h-4.2zM365 239h2.2v1.2h-2.2zM368 239h1.2v1.2h-1.2zM389 239h1.2v1.2h-1.2zM338 240h1.2v1.2h-1.2zM341 240h1.2v1.2h-1.2zM343 240h2.2v1.2h-2.2zM347 240h1.2v1.2h-1.2zM349 240h2.2v1.2h-2.2zM352 240h2.2v1.2h-2.2zM355 240h3.2v1.2h-3.2zM360 240h1.2v1.2h-1.2zM362 240h1.2v1.2h-1.2zM366 240h1.2v1.2h-1.2zM370 240h1.2v1.2h-1.2zM374 240h1.2v1.2h-1.2zM340 241h1.2v1.2h-1.2zM342 241h1.2v1.2h-1.2zM352 241h1.2v1.2h-1.2zM356 241h1.2v1.2h-1.2zM360 241h1.2v1.2h-1.2zM335 242h2.2v1.2h-2.2zM340 242h1.2v1.2h-1.2zM347 242h1.2v1.2h-1.2zM356 242h1.2v1.2h-1.2zM358 242h1.2v1.2h-1.2zM362 242h1.2v1.2h-1.2zM370 242h1.2v1.2h-1.2zM337 243h2.2v1.2h-2.2zM342 243h2.2v1.2h-2.2zM364 243h1.2v1.2h-1.2zM335 244h1.2v1.2h-1.2zM344 244h1.2v1.2h-1.2zM363 244h1.2v1.2h-1.2zM339 245h1.2v1.2h-1.2zM349 245h1.2v1.2h-1.2zM351 245h1.2v1.2h-1.2zM361 245h1.2v1.2h-1.2zM341 246h1.2v1.2h-1.2z" fill="#111" fill-opacity="0.9"/>
<line x1="293.60" y1="224.00" x2="397.80" y2="224.00" stroke="#222" stroke-width="1.0"/>
<line x1="329.00" y1="146.70" x2="329.00" y2="251.00" stroke="#222" stroke-width="1.0"/>
<rect x="293.6" y="146.7" width="104.19999999999999" height="104.30000000000001" fill="none" stroke="#222" stroke-width="1.0"/>
<rect x="296.5" y="150.7" width="22.0" height="8" fill="#fff"/>
<text x="297.00" y="157.00" font-size="8.8" text-anchor="start" font-weight="normal" textLength="21.0" lengthAdjust="spacingAndGlyphs">+TNF</text>
<rect x="361.2" y="148.7" width="31" height="13.8" fill="#fff"/>
<text x="392.2" y="158.0" font-size="9" text-anchor="end">0.6x10<tspan dy="-2.9" font-size="7">6</tspan></text>
<line x1="291.00" y1="251.00" x2="293.60" y2="251.00" stroke="#222" stroke-width="1.0"/>
<line x1="291.80" y1="243.15" x2="293.60" y2="243.15" stroke="#222" stroke-width="1.0"/>
<line x1="291.80" y1="238.56" x2="293.60" y2="238.56" stroke="#222" stroke-width="1.0"/>
<line x1="291.80" y1="235.30" x2="293.60" y2="235.30" stroke="#222" stroke-width="1.0"/>
<line x1="291.80" y1="232.77" x2="293.60" y2="232.77" stroke="#222" stroke-width="1.0"/>
<line x1="291.80" y1="230.71" x2="293.60" y2="230.71" stroke="#222" stroke-width="1.0"/>
<line x1="291.80" y1="228.96" x2="293.60" y2="228.96" stroke="#222" stroke-width="1.0"/>
<line x1="291.80" y1="227.45" x2="293.60" y2="227.45" stroke="#222" stroke-width="1.0"/>
<line x1="291.80" y1="226.12" x2="293.60" y2="226.12" stroke="#222" stroke-width="1.0"/>
<line x1="291.00" y1="224.93" x2="293.60" y2="224.93" stroke="#222" stroke-width="1.0"/>
<line x1="291.80" y1="217.08" x2="293.60" y2="217.08" stroke="#222" stroke-width="1.0"/>
<line x1="291.80" y1="212.48" x2="293.60" y2="212.48" stroke="#222" stroke-width="1.0"/>
<line x1="291.80" y1="209.23" x2="293.60" y2="209.23" stroke="#222" stroke-width="1.0"/>
<line x1="291.80" y1="206.70" x2="293.60" y2="206.70" stroke="#222" stroke-width="1.0"/>
<line x1="291.80" y1="204.63" x2="293.60" y2="204.63" stroke="#222" stroke-width="1.0"/>
<line x1="291.80" y1="202.89" x2="293.60" y2="202.89" stroke="#222" stroke-width="1.0"/>
<line x1="291.80" y1="201.38" x2="293.60" y2="201.38" stroke="#222" stroke-width="1.0"/>
<line x1="291.80" y1="200.04" x2="293.60" y2="200.04" stroke="#222" stroke-width="1.0"/>
<line x1="291.00" y1="198.85" x2="293.60" y2="198.85" stroke="#222" stroke-width="1.0"/>
<line x1="291.80" y1="191.00" x2="293.60" y2="191.00" stroke="#222" stroke-width="1.0"/>
<line x1="291.80" y1="186.41" x2="293.60" y2="186.41" stroke="#222" stroke-width="1.0"/>
<line x1="291.80" y1="183.15" x2="293.60" y2="183.15" stroke="#222" stroke-width="1.0"/>
<line x1="291.80" y1="180.62" x2="293.60" y2="180.62" stroke="#222" stroke-width="1.0"/>
<line x1="291.80" y1="178.56" x2="293.60" y2="178.56" stroke="#222" stroke-width="1.0"/>
<line x1="291.80" y1="176.81" x2="293.60" y2="176.81" stroke="#222" stroke-width="1.0"/>
<line x1="291.80" y1="175.30" x2="293.60" y2="175.30" stroke="#222" stroke-width="1.0"/>
<line x1="291.80" y1="173.97" x2="293.60" y2="173.97" stroke="#222" stroke-width="1.0"/>
<line x1="291.00" y1="172.77" x2="293.60" y2="172.77" stroke="#222" stroke-width="1.0"/>
<line x1="291.80" y1="164.93" x2="293.60" y2="164.93" stroke="#222" stroke-width="1.0"/>
<line x1="291.80" y1="160.33" x2="293.60" y2="160.33" stroke="#222" stroke-width="1.0"/>
<line x1="291.80" y1="157.08" x2="293.60" y2="157.08" stroke="#222" stroke-width="1.0"/>
<line x1="291.80" y1="154.55" x2="293.60" y2="154.55" stroke="#222" stroke-width="1.0"/>
<line x1="291.80" y1="152.48" x2="293.60" y2="152.48" stroke="#222" stroke-width="1.0"/>
<line x1="291.80" y1="150.74" x2="293.60" y2="150.74" stroke="#222" stroke-width="1.0"/>
<line x1="291.80" y1="149.23" x2="293.60" y2="149.23" stroke="#222" stroke-width="1.0"/>
<line x1="291.80" y1="147.89" x2="293.60" y2="147.89" stroke="#222" stroke-width="1.0"/>
<line x1="291.40" y1="146.70" x2="293.60" y2="146.70" stroke="#333" stroke-width="0.8"/>
<text transform="translate(289.90000000000003,255.6) rotate(-90)" font-size="6.1" font-weight="bold" fill="#222">10<tspan dy="-2.2" font-size="4.4">0</tspan></text>
<text transform="translate(289.90000000000003,229.525) rotate(-90)" font-size="6.1" font-weight="bold" fill="#222">10<tspan dy="-2.2" font-size="4.4">1</tspan></text>
<text transform="translate(289.90000000000003,203.45) rotate(-90)" font-size="6.1" font-weight="bold" fill="#222">10<tspan dy="-2.2" font-size="4.4">2</tspan></text>
<text transform="translate(289.90000000000003,177.37499999999997) rotate(-90)" font-size="6.1" font-weight="bold" fill="#222">10<tspan dy="-2.2" font-size="4.4">3</tspan></text>
<text transform="translate(289.90000000000003,151.29999999999998) rotate(-90)" font-size="6.1" font-weight="bold" fill="#222">10<tspan dy="-2.2" font-size="4.4">4</tspan></text>
<line x1="293.60" y1="251.00" x2="293.60" y2="253.40" stroke="#222" stroke-width="1.0"/>
<line x1="297.69" y1="251.00" x2="297.69" y2="252.80" stroke="#222" stroke-width="1.0"/>
<line x1="301.77" y1="251.00" x2="301.77" y2="252.80" stroke="#222" stroke-width="1.0"/>
<line x1="305.86" y1="251.00" x2="305.86" y2="252.80" stroke="#222" stroke-width="1.0"/>
<line x1="309.95" y1="251.00" x2="309.95" y2="252.80" stroke="#222" stroke-width="1.0"/>
<line x1="314.03" y1="251.00" x2="314.03" y2="253.40" stroke="#222" stroke-width="1.0"/>
<line x1="318.12" y1="251.00" x2="318.12" y2="252.80" stroke="#222" stroke-width="1.0"/>
<line x1="322.20" y1="251.00" x2="322.20" y2="252.80" stroke="#222" stroke-width="1.0"/>
<line x1="326.29" y1="251.00" x2="326.29" y2="252.80" stroke="#222" stroke-width="1.0"/>
<line x1="330.38" y1="251.00" x2="330.38" y2="252.80" stroke="#222" stroke-width="1.0"/>
<line x1="334.46" y1="251.00" x2="334.46" y2="253.40" stroke="#222" stroke-width="1.0"/>
<line x1="338.55" y1="251.00" x2="338.55" y2="252.80" stroke="#222" stroke-width="1.0"/>
<line x1="342.64" y1="251.00" x2="342.64" y2="252.80" stroke="#222" stroke-width="1.0"/>
<line x1="346.72" y1="251.00" x2="346.72" y2="252.80" stroke="#222" stroke-width="1.0"/>
<line x1="350.81" y1="251.00" x2="350.81" y2="252.80" stroke="#222" stroke-width="1.0"/>
<line x1="354.89" y1="251.00" x2="354.89" y2="253.40" stroke="#222" stroke-width="1.0"/>
<line x1="358.98" y1="251.00" x2="358.98" y2="252.80" stroke="#222" stroke-width="1.0"/>
<line x1="363.07" y1="251.00" x2="363.07" y2="252.80" stroke="#222" stroke-width="1.0"/>
<line x1="367.15" y1="251.00" x2="367.15" y2="252.80" stroke="#222" stroke-width="1.0"/>
<line x1="371.24" y1="251.00" x2="371.24" y2="252.80" stroke="#222" stroke-width="1.0"/>
<line x1="375.33" y1="251.00" x2="375.33" y2="253.40" stroke="#222" stroke-width="1.0"/>
<line x1="379.41" y1="251.00" x2="379.41" y2="252.80" stroke="#222" stroke-width="1.0"/>
<line x1="383.50" y1="251.00" x2="383.50" y2="252.80" stroke="#222" stroke-width="1.0"/>
<line x1="387.58" y1="251.00" x2="387.58" y2="252.80" stroke="#222" stroke-width="1.0"/>
<line x1="391.67" y1="251.00" x2="391.67" y2="252.80" stroke="#222" stroke-width="1.0"/>
<line x1="395.76" y1="251.00" x2="395.76" y2="253.40" stroke="#222" stroke-width="1.0"/>
<text x="292.1" y="259.1" font-size="7" font-weight="bold" fill="#222" textLength="4.0" lengthAdjust="spacingAndGlyphs">0</text>
<text x="310.5" y="259.1" font-size="7" font-weight="bold" fill="#222" textLength="7.0" lengthAdjust="spacingAndGlyphs">50</text>
<text x="328.8" y="259.1" font-size="7" font-weight="bold" fill="#222" textLength="10.2" lengthAdjust="spacingAndGlyphs">100</text>
<text x="348.7" y="259.1" font-size="7" font-weight="bold" fill="#222" textLength="10.2" lengthAdjust="spacingAndGlyphs">150</text>
<text x="368.5" y="259.1" font-size="7" font-weight="bold" fill="#222" textLength="10.2" lengthAdjust="spacingAndGlyphs">200</text>
<text x="388.4" y="259.1" font-size="7" font-weight="bold" fill="#222" textLength="10.2" lengthAdjust="spacingAndGlyphs">250</text>
<path d="M483 192h1.2v1.2h-1.2zM478 203h1.2v1.2h-1.2zM445 213h1.2v1.2h-1.2zM457 217h1.2v1.2h-1.2zM472 217h1.2v1.2h-1.2zM464 220h1.2v1.2h-1.2zM462 222h1.2v1.2h-1.2zM468 223h1.2v1.2h-1.2zM435 228h1.2v1.2h-1.2zM437 228h1.2v1.2h-1.2zM441 228h1.2v1.2h-1.2zM451 228h1.2v1.2h-1.2zM467 228h1.2v1.2h-1.2zM471 228h1.2v1.2h-1.2zM475 228h1.2v1.2h-1.2zM479 228h1.2v1.2h-1.2zM482 228h1.2v1.2h-1.2zM437 229h1.2v1.2h-1.2zM450 229h1.2v1.2h-1.2zM458 229h1.2v1.2h-1.2zM463 229h1.2v1.2h-1.2zM466 229h1.2v1.2h-1.2zM468 229h1.2v1.2h-1.2zM470 229h1.2v1.2h-1.2zM481 229h1.2v1.2h-1.2zM484 229h1.2v1.2h-1.2zM433 230h1.2v1.2h-1.2zM436 230h1.2v1.2h-1.2zM440 230h1.2v1.2h-1.2zM455 230h1.2v1.2h-1.2zM460 230h1.2v1.2h-1.2zM462 230h1.2v1.2h-1.2zM464 230h2.2v1.2h-2.2zM468 230h2.2v1.2h-2.2zM473 230h1.2v1.2h-1.2zM476 230h1.2v1.2h-1.2zM479 230h1.2v1.2h-1.2zM486 230h1.2v1.2h-1.2zM492 230h1.2v1.2h-1.2zM438 231h1.2v1.2h-1.2zM449 231h3.2v1.2h-3.2zM460 231h1.2v1.2h-1.2zM463 231h1.2v1.2h-1.2zM466 231h2.2v1.2h-2.2zM470 231h1.2v1.2h-1.2zM474 231h2.2v1.2h-2.2zM483 231h2.2v1.2h-2.2zM488 231h1.2v1.2h-1.2zM491 231h1.2v1.2h-1.2zM494 231h1.2v1.2h-1.2zM432 232h1.2v1.2h-1.2zM439 232h4.2v1.2h-4.2zM449 232h2.2v1.2h-2.2zM454 232h1.2v1.2h-1.2zM456 232h2.2v1.2h-2.2zM463 232h1.2v1.2h-1.2zM467 232h2.2v1.2h-2.2zM471 232h1.2v1.2h-1.2zM475 232h3.2v1.2h-3.2zM483 232h1.2v1.2h-1.2zM486 232h1.2v1.2h-1.2zM432 233h1.2v1.2h-1.2zM435 233h1.2v1.2h-1.2zM439 233h1.2v1.2h-1.2zM442 233h3.2v1.2h-3.2zM452 233h3.2v1.2h-3.2zM457 233h3.2v1.2h-3.2zM464 233h3.2v1.2h-3.2zM472 233h1.2v1.2h-1.2zM474 233h1.2v1.2h-1.2zM477 233h1.2v1.2h-1.2zM481 233h1.2v1.2h-1.2zM483 233h1.2v1.2h-1.2zM485 233h1.2v1.2h-1.2zM438 234h1.2v1.2h-1.2zM440 234h1.2v1.2h-1.2zM442 234h2.2v1.2h-2.2zM456 234h1.2v1.2h-1.2zM461 234h2.2v1.2h-2.2zM464 234h2.2v1.2h-2.2zM467 234h1.2v1.2h-1.2zM469 234h1.2v1.2h-1.2zM472 234h1.2v1.2h-1.2zM476 234h2.2v1.2h-2.2zM488 234h1.2v1.2h-1.2zM433 235h1.2v1.2h-1.2zM441 235h1.2v1.2h-1.2zM449 235h1.2v1.2h-1.2zM452 235h3.2v1.2h-3.2zM456 235h7.2v1.2h-7.2zM464 235h5.2v1.2h-5.2zM472 235h1.2v1.2h-1.2zM474 235h3.2v1.2h-3.2zM481 235h2.2v1.2h-2.2zM486 235h1.2v1.2h-1.2zM492 235h1.2v1.2h-1.2zM495 235h1.2v1.2h-1.2zM426 236h1.2v1.2h-1.2zM428 236h1.2v1.2h-1.2zM431 236h1.2v1.2h-1.2zM433 236h2.2v1.2h-2.2zM445 236h1.2v1.2h-1.2zM448 236h2.2v1.2h-2.2zM452 236h2.2v1.2h-2.2zM455 236h8.2v1.2h-8.2zM464 236h7.2v1.2h-7.2zM472 236h1.2v1.2h-1.2zM476 236h1.2v1.2h-1.2zM482 236h1.2v1.2h-1.2zM487 236h1.2v1.2h-1.2zM426 237h1.2v1.2h-1.2zM431 237h1.2v1.2h-1.2zM433 237h1.2v1.2h-1.2zM435 237h1.2v1.2h-1.2zM437 237h1.2v1.2h-1.2zM440 237h1.2v1.2h-1.2zM444 237h1.2v1.2h-1.2zM446 237h1.2v1.2h-1.2zM448 237h1.2v1.2h-1.2zM453 237h1.2v1.2h-1.2zM455 237h8.2v1.2h-8.2zM464 237h1.2v1.2h-1.2zM466 237h2.2v1.2h-2.2zM469 237h5.2v1.2h-5.2zM476 237h3.2v1.2h-3.2zM484 237h3.2v1.2h-3.2zM491 237h1.2v1.2h-1.2zM425 238h1.2v1.2h-1.2zM432 238h2.2v1.2h-2.2zM436 238h1.2v1.2h-1.2zM439 238h1.2v1.2h-1.2zM447 238h1.2v1.2h-1.2zM449 238h1.2v1.2h-1.2zM451 238h8.2v1.2h-8.2zM460 238h2.2v1.2h-2.2zM463 238h7.2v1.2h-7.2zM472 238h2.2v1.2h-2.2zM476 238h4.2v1.2h-4.2zM482 238h1.2v1.2h-1.2zM484 238h1.2v1.2h-1.2zM487 238h1.2v1.2h-1.2zM489 238h2.2v1.2h-2.2zM494 238h1.2v1.2h-1.2zM429 239h1.2v1.2h-1.2zM438 239h1.2v1.2h-1.2zM440 239h1.2v1.2h-1.2zM442 239h1.2v1.2h-1.2zM444 239h2.2v1.2h-2.2zM449 239h2.2v1.2h-2.2zM452 239h4.2v1.2h-4.2zM457 239h11.2v1.2h-11.2zM469 239h9.2v1.2h-9.2zM485 239h1.2v1.2h-1.2zM487 239h1.2v1.2h-1.2zM489 239h1.2v1.2h-1.2zM430 240h1.2v1.2h-1.2zM433 240h1.2v1.2h-1.2zM435 240h1.2v1.2h-1.2zM440 240h1.2v1.2h-1.2zM450 240h15.2v1.2h-15.2zM466 240h9.2v1.2h-9.2zM482 240h1.2v1.2h-1.2zM485 240h2.2v1.2h-2.2zM492 240h1.2v1.2h-1.2zM428 241h1.2v1.2h-1.2zM432 241h1.2v1.2h-1.2zM437 241h1.2v1.2h-1.2zM442 241h2.2v1.2h-2.2zM445 241h3.2v1.2h-3.2zM449 241h1.2v1.2h-1.2zM451 241h4.2v1.2h-4.2zM458 241h3.2v1.2h-3.2zM462 241h5.2v1.2h-5.2zM468 241h8.2v1.2h-8.2zM477 241h2.2v1.2h-2.2zM483 241h1.2v1.2h-1.2zM485 241h1.2v1.2h-1.2zM489 241h1.2v1.2h-1.2zM491 241h1.2v1.2h-1.2zM437 242h4.2v1.2h-4.2zM447 242h2.2v1.2h-2.2zM450 242h5.2v1.2h-5.2zM456 242h5.2v1.2h-5.2zM462 242h3.2v1.2h-3.2zM467 242h2.2v1.2h-2.2zM470 242h4.2v1.2h-4.2zM475 242h5.2v1.2h-5.2zM484 242h2.2v1.2h-2.2zM427 243h1.2v1.2h-1.2zM432 243h1.2v1.2h-1.2zM435 243h2.2v1.2h-2.2zM438 243h1.2v1.2h-1.2zM445 243h1.2v1.2h-1.2zM448 243h1.2v1.2h-1.2zM452 243h3.2v1.2h-3.2zM456 243h5.2v1.2h-5.2zM462 243h5.2v1.2h-5.2zM469 243h1.2v1.2h-1.2zM471 243h3.2v1.2h-3.2zM475 243h2.2v1.2h-2.2zM478 243h1.2v1.2h-1.2zM481 243h2.2v1.2h-2.2zM487 243h1.2v1.2h-1.2zM490 243h1.2v1.2h-1.2zM425 244h1.2v1.2h-1.2zM428 244h1.2v1.2h-1.2zM430 244h1.2v1.2h-1.2zM442 244h1.2v1.2h-1.2zM450 244h2.2v1.2h-2.2zM453 244h1.2v1.2h-1.2zM456 244h1.2v1.2h-1.2zM458 244h3.2v1.2h-3.2zM463 244h1.2v1.2h-1.2zM465 244h5.2v1.2h-5.2zM471 244h2.2v1.2h-2.2zM476 244h3.2v1.2h-3.2zM480 244h1.2v1.2h-1.2zM485 244h1.2v1.2h-1.2zM493 244h1.2v1.2h-1.2zM434 245h1.2v1.2h-1.2zM436 245h1.2v1.2h-1.2zM440 245h2.2v1.2h-2.2zM444 245h1.2v1.2h-1.2zM448 245h1.2v1.2h-1.2zM452 245h3.2v1.2h-3.2zM456 245h1.2v1.2h-1.2zM458 245h5.2v1.2h-5.2zM464 245h4.2v1.2h-4.2zM469 245h1.2v1.2h-1.2zM472 245h3.2v1.2h-3.2zM485 245h1.2v1.2h-1.2zM488 245h1.2v1.2h-1.2zM434 246h1.2v1.2h-1.2zM436 246h1.2v1.2h-1.2zM445 246h2.2v1.2h-2.2zM452 246h1.2v1.2h-1.2zM455 246h1.2v1.2h-1.2zM457 246h3.2v1.2h-3.2zM461 246h2.2v1.2h-2.2zM465 246h5.2v1.2h-5.2zM472 246h3.2v1.2h-3.2zM476 246h2.2v1.2h-2.2zM480 246h3.2v1.2h-3.2zM427 247h1.2v1.2h-1.2zM434 247h2.2v1.2h-2.2zM440 247h1.2v1.2h-1.2zM449 247h2.2v1.2h-2.2zM455 247h4.2v1.2h-4.2zM460 247h1.2v1.2h-1.2zM462 247h1.2v1.2h-1.2zM464 247h2.2v1.2h-2.2zM469 247h1.2v1.2h-1.2zM471 247h5.2v1.2h-5.2zM482 247h1.2v1.2h-1.2zM429 248h1.2v1.2h-1.2zM433 248h1.2v1.2h-1.2zM453 248h1.2v1.2h-1.2zM456 248h1.2v1.2h-1.2zM458 248h1.2v1.2h-1.2zM460 248h1.2v1.2h-1.2zM463 248h1.2v1.2h-1.2zM468 248h1.2v1.2h-1.2zM472 248h2.2v1.2h-2.2zM476 248h1.2v1.2h-1.2zM482 248h1.2v1.2h-1.2zM429 249h1.2v1.2h-1.2zM439 249h1.2v1.2h-1.2zM449 249h1.2v1.2h-1.2zM453 249h1.2v1.2h-1.2zM456 249h1.2v1.2h-1.2zM460 249h1.2v1.2h-1.2zM466 249h1.2v1.2h-1.2zM471 249h1.2v1.2h-1.2z" fill="#111" fill-opacity="0.9"/>
<line x1="413.50" y1="226.60" x2="516.20" y2="226.60" stroke="#222" stroke-width="1.0"/>
<line x1="423.70" y1="145.40" x2="423.70" y2="250.50" stroke="#222" stroke-width="1.0"/>
<rect x="413.5" y="145.4" width="102.70000000000005" height="105.1" fill="none" stroke="#222" stroke-width="1.0"/>
<rect x="416.7" y="146.4" width="23.8" height="14.5" fill="#fff"/>
<text x="417.20" y="157.30" font-size="8.8" text-anchor="start" font-weight="normal" textLength="22.8" lengthAdjust="spacingAndGlyphs">-MCM</text>
<rect x="480.6" y="147.4" width="31" height="15.1" fill="#fff"/>
<text x="511.6" y="158.0" font-size="9" text-anchor="end">0.5x10<tspan dy="-2.9" font-size="7">6</tspan></text>
<line x1="410.90" y1="250.50" x2="413.50" y2="250.50" stroke="#222" stroke-width="1.0"/>
<line x1="411.70" y1="242.59" x2="413.50" y2="242.59" stroke="#222" stroke-width="1.0"/>
<line x1="411.70" y1="237.96" x2="413.50" y2="237.96" stroke="#222" stroke-width="1.0"/>
<line x1="411.70" y1="234.68" x2="413.50" y2="234.68" stroke="#222" stroke-width="1.0"/>
<line x1="411.70" y1="232.13" x2="413.50" y2="232.13" stroke="#222" stroke-width="1.0"/>
<line x1="411.70" y1="230.05" x2="413.50" y2="230.05" stroke="#222" stroke-width="1.0"/>
<line x1="411.70" y1="228.30" x2="413.50" y2="228.30" stroke="#222" stroke-width="1.0"/>
<line x1="411.70" y1="226.77" x2="413.50" y2="226.77" stroke="#222" stroke-width="1.0"/>
<line x1="411.70" y1="225.43" x2="413.50" y2="225.43" stroke="#222" stroke-width="1.0"/>
<line x1="410.90" y1="224.22" x2="413.50" y2="224.22" stroke="#222" stroke-width="1.0"/>
<line x1="411.70" y1="216.32" x2="413.50" y2="216.32" stroke="#222" stroke-width="1.0"/>
<line x1="411.70" y1="211.69" x2="413.50" y2="211.69" stroke="#222" stroke-width="1.0"/>
<line x1="411.70" y1="208.41" x2="413.50" y2="208.41" stroke="#222" stroke-width="1.0"/>
<line x1="411.70" y1="205.86" x2="413.50" y2="205.86" stroke="#222" stroke-width="1.0"/>
<line x1="411.70" y1="203.78" x2="413.50" y2="203.78" stroke="#222" stroke-width="1.0"/>
<line x1="411.70" y1="202.02" x2="413.50" y2="202.02" stroke="#222" stroke-width="1.0"/>
<line x1="411.70" y1="200.50" x2="413.50" y2="200.50" stroke="#222" stroke-width="1.0"/>
<line x1="411.70" y1="199.15" x2="413.50" y2="199.15" stroke="#222" stroke-width="1.0"/>
<line x1="410.90" y1="197.95" x2="413.50" y2="197.95" stroke="#222" stroke-width="1.0"/>
<line x1="411.70" y1="190.04" x2="413.50" y2="190.04" stroke="#222" stroke-width="1.0"/>
<line x1="411.70" y1="185.41" x2="413.50" y2="185.41" stroke="#222" stroke-width="1.0"/>
<line x1="411.70" y1="182.13" x2="413.50" y2="182.13" stroke="#222" stroke-width="1.0"/>
<line x1="411.70" y1="179.58" x2="413.50" y2="179.58" stroke="#222" stroke-width="1.0"/>
<line x1="411.70" y1="177.50" x2="413.50" y2="177.50" stroke="#222" stroke-width="1.0"/>
<line x1="411.70" y1="175.75" x2="413.50" y2="175.75" stroke="#222" stroke-width="1.0"/>
<line x1="411.70" y1="174.22" x2="413.50" y2="174.22" stroke="#222" stroke-width="1.0"/>
<line x1="411.70" y1="172.88" x2="413.50" y2="172.88" stroke="#222" stroke-width="1.0"/>
<line x1="410.90" y1="171.68" x2="413.50" y2="171.68" stroke="#222" stroke-width="1.0"/>
<line x1="411.70" y1="163.77" x2="413.50" y2="163.77" stroke="#222" stroke-width="1.0"/>
<line x1="411.70" y1="159.14" x2="413.50" y2="159.14" stroke="#222" stroke-width="1.0"/>
<line x1="411.70" y1="155.86" x2="413.50" y2="155.86" stroke="#222" stroke-width="1.0"/>
<line x1="411.70" y1="153.31" x2="413.50" y2="153.31" stroke="#222" stroke-width="1.0"/>
<line x1="411.70" y1="151.23" x2="413.50" y2="151.23" stroke="#222" stroke-width="1.0"/>
<line x1="411.70" y1="149.47" x2="413.50" y2="149.47" stroke="#222" stroke-width="1.0"/>
<line x1="411.70" y1="147.95" x2="413.50" y2="147.95" stroke="#222" stroke-width="1.0"/>
<line x1="411.70" y1="146.60" x2="413.50" y2="146.60" stroke="#222" stroke-width="1.0"/>
<line x1="411.30" y1="145.40" x2="413.50" y2="145.40" stroke="#333" stroke-width="0.8"/>
<text transform="translate(409.8,255.1) rotate(-90)" font-size="6.1" font-weight="bold" fill="#222">10<tspan dy="-2.2" font-size="4.4">0</tspan></text>
<text transform="translate(409.8,228.825) rotate(-90)" font-size="6.1" font-weight="bold" fill="#222">10<tspan dy="-2.2" font-size="4.4">1</tspan></text>
<text transform="translate(409.8,202.54999999999998) rotate(-90)" font-size="6.1" font-weight="bold" fill="#222">10<tspan dy="-2.2" font-size="4.4">2</tspan></text>
<text transform="translate(409.8,176.275) rotate(-90)" font-size="6.1" font-weight="bold" fill="#222">10<tspan dy="-2.2" font-size="4.4">3</tspan></text>
<text transform="translate(409.8,150.0) rotate(-90)" font-size="6.1" font-weight="bold" fill="#222">10<tspan dy="-2.2" font-size="4.4">4</tspan></text>
<line x1="413.50" y1="250.50" x2="413.50" y2="252.90" stroke="#222" stroke-width="1.0"/>
<line x1="417.53" y1="250.50" x2="417.53" y2="252.30" stroke="#222" stroke-width="1.0"/>
<line x1="421.55" y1="250.50" x2="421.55" y2="252.30" stroke="#222" stroke-width="1.0"/>
<line x1="425.58" y1="250.50" x2="425.58" y2="252.30" stroke="#222" stroke-width="1.0"/>
<line x1="429.61" y1="250.50" x2="429.61" y2="252.30" stroke="#222" stroke-width="1.0"/>
<line x1="433.64" y1="250.50" x2="433.64" y2="252.90" stroke="#222" stroke-width="1.0"/>
<line x1="437.66" y1="250.50" x2="437.66" y2="252.30" stroke="#222" stroke-width="1.0"/>
<line x1="441.69" y1="250.50" x2="441.69" y2="252.30" stroke="#222" stroke-width="1.0"/>
<line x1="445.72" y1="250.50" x2="445.72" y2="252.30" stroke="#222" stroke-width="1.0"/>
<line x1="449.75" y1="250.50" x2="449.75" y2="252.30" stroke="#222" stroke-width="1.0"/>
<line x1="453.77" y1="250.50" x2="453.77" y2="252.90" stroke="#222" stroke-width="1.0"/>
<line x1="457.80" y1="250.50" x2="457.80" y2="252.30" stroke="#222" stroke-width="1.0"/>
<line x1="461.83" y1="250.50" x2="461.83" y2="252.30" stroke="#222" stroke-width="1.0"/>
<line x1="465.86" y1="250.50" x2="465.86" y2="252.30" stroke="#222" stroke-width="1.0"/>
<line x1="469.88" y1="250.50" x2="469.88" y2="252.30" stroke="#222" stroke-width="1.0"/>
<line x1="473.91" y1="250.50" x2="473.91" y2="252.90" stroke="#222" stroke-width="1.0"/>
<line x1="477.94" y1="250.50" x2="477.94" y2="252.30" stroke="#222" stroke-width="1.0"/>
<line x1="481.97" y1="250.50" x2="481.97" y2="252.30" stroke="#222" stroke-width="1.0"/>
<line x1="485.99" y1="250.50" x2="485.99" y2="252.30" stroke="#222" stroke-width="1.0"/>
<line x1="490.02" y1="250.50" x2="490.02" y2="252.30" stroke="#222" stroke-width="1.0"/>
<line x1="494.05" y1="250.50" x2="494.05" y2="252.90" stroke="#222" stroke-width="1.0"/>
<line x1="498.08" y1="250.50" x2="498.08" y2="252.30" stroke="#222" stroke-width="1.0"/>
<line x1="502.10" y1="250.50" x2="502.10" y2="252.30" stroke="#222" stroke-width="1.0"/>
<line x1="506.13" y1="250.50" x2="506.13" y2="252.30" stroke="#222" stroke-width="1.0"/>
<line x1="510.16" y1="250.50" x2="510.16" y2="252.30" stroke="#222" stroke-width="1.0"/>
<line x1="514.19" y1="250.50" x2="514.19" y2="252.90" stroke="#222" stroke-width="1.0"/>
<text x="412.0" y="258.6" font-size="7" font-weight="bold" fill="#222" textLength="4.0" lengthAdjust="spacingAndGlyphs">0</text>
<text x="430.1" y="258.6" font-size="7" font-weight="bold" fill="#222" textLength="7.0" lengthAdjust="spacingAndGlyphs">50</text>
<text x="448.1" y="258.6" font-size="7" font-weight="bold" fill="#222" textLength="10.2" lengthAdjust="spacingAndGlyphs">100</text>
<text x="467.7" y="258.6" font-size="7" font-weight="bold" fill="#222" textLength="10.2" lengthAdjust="spacingAndGlyphs">150</text>
<text x="487.3" y="258.6" font-size="7" font-weight="bold" fill="#222" textLength="10.2" lengthAdjust="spacingAndGlyphs">200</text>
<text x="506.9" y="258.6" font-size="7" font-weight="bold" fill="#222" textLength="10.2" lengthAdjust="spacingAndGlyphs">250</text>
<text x="176.80" y="265.00" font-size="6.2" text-anchor="start" font-weight="bold" fill="#333" textLength="27.5" lengthAdjust="spacing">FSC ----&gt;</text>
<text transform="translate(166.0,247.5) rotate(-90)" font-size="6.2" font-weight="bold" fill="#333" textLength="29" lengthAdjust="spacing">FL2 ----&gt;</text>
<line x1="342.00" y1="125.80" x2="342.00" y2="138.00" stroke="#111" stroke-width="1.5"/>
<path d="M336.3 132.3 L342 144.2 L347.7 132.3 L342 138.6 Z" fill="#111"/>
</svg>
</body></html>
